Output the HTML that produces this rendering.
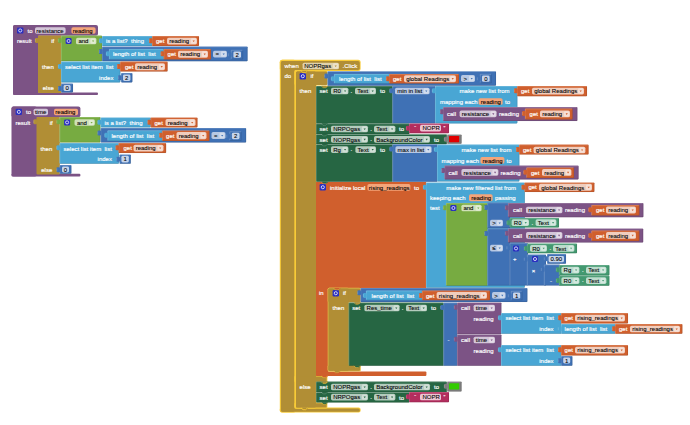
<!DOCTYPE html>
<html><head><meta charset="utf-8"><title>blocks</title>
<style>html,body{margin:0;padding:0;background:#fff;}svg{display:block}text{font-family:"Liberation Sans",sans-serif;white-space:pre}</style>
</head><body>
<svg width="690" height="425" viewBox="0 0 690 425" xml:space="preserve">
<rect width="690" height="425" fill="#fff"/>
<rect x="13.00" y="25.00" width="85.00" height="10.80" rx="2" fill="#7C5385" />
<rect x="13.00" y="25.00" width="25.50" height="70.00" rx="2" fill="#7C5385" />
<rect x="13.00" y="92.40" width="85.00" height="2.60" rx="1" fill="#7C5385" />
<rect x="17.00" y="27.40" width="6.40" height="6.20" rx="1.2" fill="#2a2fc0" />
<circle cx="20.20" cy="30.50" r="1.55" fill="none" stroke="#fff" stroke-width="0.75"/>
<text x="27.60" y="32.70" fill="#fff" stroke="#fff" stroke-width="0.16" text-anchor="start" font-size="6.0">to</text>
<rect x="35.00" y="27.25" width="30.60" height="6.50" rx="1.7" fill="#d3c6d8" />
<text x="36.30" y="32.70" fill="#000" stroke="#000" stroke-width="0.09" text-anchor="start" font-size="6.0">resistance</text>
<rect x="71.40" y="27.25" width="24.20" height="6.50" rx="1.7" fill="#f3a57a" />
<text x="72.70" y="32.70" fill="#000" stroke="#000" stroke-width="0.09" text-anchor="start" font-size="6.0">reading</text>
<text x="17.00" y="43.10" fill="#fff" stroke="#fff" stroke-width="0.16" text-anchor="start" font-size="6.0">result</text>
<rect x="38.00" y="35.60" width="23.40" height="57.40" rx="0.8" fill="#B18E35" />
<rect x="35.00" y="37.90" width="3.6" height="5" rx="1.2" fill="#B18E35"/>
<path d="M35.30 41.90 V38.90" fill="none" stroke="#fff" stroke-opacity="0.3" stroke-width="0.6"/>
<text x="54.20" y="43.10" fill="#fff" stroke="#fff" stroke-width="0.16" text-anchor="end" font-size="6.0">if</text>
<text x="53.80" y="69.10" fill="#fff" stroke="#fff" stroke-width="0.16" text-anchor="end" font-size="6.0">then</text>
<text x="53.80" y="90.10" fill="#fff" stroke="#fff" stroke-width="0.16" text-anchor="end" font-size="6.0">else</text>
<rect x="61.00" y="35.60" width="41.00" height="25.60" rx="0.8" fill="#77AB41" />
<path d="M61.30 60.60 V35.90 H101.40" fill="none" stroke="#fff" stroke-opacity="0.33" stroke-width="0.6"/>
<path d="M61.60 60.90 H101.70 V36.20" fill="none" stroke="#000" stroke-opacity="0.18" stroke-width="0.6"/>
<rect x="58.00" y="37.90" width="3.6" height="5" rx="1.2" fill="#77AB41"/>
<path d="M58.30 41.90 V38.90" fill="none" stroke="#fff" stroke-opacity="0.3" stroke-width="0.6"/>
<rect x="65.60" y="38.00" width="6.00" height="6.00" rx="1.2" fill="#2a2fc0" />
<circle cx="68.60" cy="41.00" r="1.55" fill="none" stroke="#fff" stroke-width="0.75"/>
<rect x="76.00" y="37.85" width="20.40" height="6.50" rx="1.7" fill="#cfe0b8" />
<text x="78.40" y="43.30" fill="#000" stroke="#000" stroke-width="0.09" text-anchor="start" font-size="6.0">and</text>
<rect x="90.40" y="38.55" width="5.2" height="5.10" rx="1.1" fill="#fff" fill-opacity="0.38"/>
<path d="M92.00 40.50 h2.2 l-1.1 1.6 z" fill="#77AB41"/>
<rect x="102.00" y="36.00" width="50.40" height="10.00" rx="0.8" fill="#49A6D4" />
<path d="M102.30 45.40 V36.30 H151.80" fill="none" stroke="#fff" stroke-opacity="0.33" stroke-width="0.6"/>
<path d="M102.60 45.70 H152.10 V36.60" fill="none" stroke="#000" stroke-opacity="0.18" stroke-width="0.6"/>
<rect x="99.00" y="38.30" width="3.6" height="5" rx="1.2" fill="#49A6D4"/>
<path d="M99.30 42.30 V39.30" fill="none" stroke="#fff" stroke-opacity="0.3" stroke-width="0.6"/>
<text x="106.00" y="43.10" fill="#fff" stroke="#fff" stroke-width="0.16" text-anchor="start" font-size="6.0">is a list?  thing</text>
<rect x="152.00" y="36.00" width="47.00" height="10.00" rx="0.8" fill="#D05F2D" />
<path d="M152.30 45.40 V36.30 H198.40" fill="none" stroke="#fff" stroke-opacity="0.33" stroke-width="0.6"/>
<path d="M152.60 45.70 H198.70 V36.60" fill="none" stroke="#000" stroke-opacity="0.18" stroke-width="0.6"/>
<rect x="149.00" y="38.30" width="3.6" height="5" rx="1.2" fill="#D05F2D"/>
<path d="M149.30 42.30 V39.30" fill="none" stroke="#fff" stroke-opacity="0.3" stroke-width="0.6"/>
<text x="156.00" y="43.10" fill="#fff" stroke="#fff" stroke-width="0.16" text-anchor="start" font-size="6.0">get</text>
<rect x="167.00" y="37.65" width="30.00" height="6.90" rx="1.7" fill="#f0cdbd" />
<text x="169.20" y="43.30" fill="#000" stroke="#000" stroke-width="0.09" text-anchor="start" font-size="6.0">reading</text>
<rect x="191.00" y="38.35" width="5.2" height="5.50" rx="1.1" fill="#fff" fill-opacity="0.38"/>
<path d="M192.60 40.50 h2.2 l-1.1 1.6 z" fill="#D05F2D"/>
<rect x="102.00" y="46.50" width="145.60" height="14.70" rx="0.8" fill="#3F71B5" />
<path d="M102.30 60.60 V46.80 H247.00" fill="none" stroke="#fff" stroke-opacity="0.33" stroke-width="0.6"/>
<path d="M102.60 60.90 H247.30 V47.10" fill="none" stroke="#000" stroke-opacity="0.18" stroke-width="0.6"/>
<rect x="99.00" y="49.10" width="3.6" height="5" rx="1.2" fill="#3F71B5"/>
<path d="M99.30 53.10 V50.10" fill="none" stroke="#fff" stroke-opacity="0.3" stroke-width="0.6"/>
<rect x="109.00" y="49.00" width="55.00" height="10.60" rx="0.8" fill="#49A6D4" />
<path d="M109.30 59.00 V49.30 H163.40" fill="none" stroke="#fff" stroke-opacity="0.33" stroke-width="0.6"/>
<path d="M109.60 59.30 H163.70 V49.60" fill="none" stroke="#000" stroke-opacity="0.18" stroke-width="0.6"/>
<rect x="106.00" y="51.30" width="3.6" height="5" rx="1.2" fill="#49A6D4"/>
<path d="M106.30 55.30 V52.30" fill="none" stroke="#fff" stroke-opacity="0.3" stroke-width="0.6"/>
<text x="113.00" y="56.40" fill="#fff" stroke="#fff" stroke-width="0.16" text-anchor="start" font-size="6.0">length of list  list</text>
<rect x="163.60" y="49.00" width="47.40" height="10.60" rx="0.8" fill="#D05F2D" />
<path d="M163.90 59.00 V49.30 H210.40" fill="none" stroke="#fff" stroke-opacity="0.33" stroke-width="0.6"/>
<path d="M164.20 59.30 H210.70 V49.60" fill="none" stroke="#000" stroke-opacity="0.18" stroke-width="0.6"/>
<rect x="160.60" y="51.30" width="3.6" height="5" rx="1.2" fill="#D05F2D"/>
<path d="M160.90 55.30 V52.30" fill="none" stroke="#fff" stroke-opacity="0.3" stroke-width="0.6"/>
<text x="167.60" y="56.40" fill="#fff" stroke="#fff" stroke-width="0.16" text-anchor="start" font-size="6.0">get</text>
<rect x="178.00" y="50.65" width="30.00" height="7.10" rx="1.7" fill="#f0cdbd" />
<text x="180.20" y="56.40" fill="#000" stroke="#000" stroke-width="0.09" text-anchor="start" font-size="6.0">reading</text>
<rect x="202.00" y="51.35" width="5.2" height="5.70" rx="1.1" fill="#fff" fill-opacity="0.38"/>
<path d="M203.60 53.60 h2.2 l-1.1 1.6 z" fill="#D05F2D"/>
<rect x="213.00" y="50.65" width="14.00" height="6.90" rx="1.7" fill="#b7c8e3" />
<text x="215.50" y="56.30" fill="#000" stroke="#000" stroke-width="0.09" text-anchor="start" font-size="6.0">=</text>
<rect x="221.00" y="51.35" width="5.2" height="5.50" rx="1.1" fill="#fff" fill-opacity="0.38"/>
<path d="M222.60 53.50 h2.2 l-1.1 1.6 z" fill="#3F71B5"/>
<rect x="231.00" y="50.00" width="12.00" height="9.40" rx="0.8" fill="#3F71B5" />
<path d="M231.30 58.80 V50.30 H242.40" fill="none" stroke="#fff" stroke-opacity="0.33" stroke-width="0.6"/>
<path d="M231.60 59.10 H242.70 V50.60" fill="none" stroke="#000" stroke-opacity="0.18" stroke-width="0.6"/>
<rect x="228.00" y="52.30" width="3.6" height="5" rx="1.2" fill="#3F71B5"/>
<path d="M228.30 56.30 V53.30" fill="none" stroke="#fff" stroke-opacity="0.3" stroke-width="0.6"/>
<rect x="233.40" y="51.40" width="7.60" height="6.40" rx="1.4" fill="#c6d4ea" />
<text x="237.20" y="56.70" fill="#000" stroke="#000" stroke-width="0.09" text-anchor="middle" font-size="6.0">2</text>
<rect x="61.00" y="61.60" width="59.40" height="20.80" rx="0.8" fill="#49A6D4" />
<path d="M61.30 81.80 V61.90 H119.80" fill="none" stroke="#fff" stroke-opacity="0.33" stroke-width="0.6"/>
<path d="M61.60 82.10 H120.10 V62.20" fill="none" stroke="#000" stroke-opacity="0.18" stroke-width="0.6"/>
<rect x="58.00" y="63.90" width="3.6" height="5" rx="1.2" fill="#49A6D4"/>
<path d="M58.30 67.90 V64.90" fill="none" stroke="#fff" stroke-opacity="0.3" stroke-width="0.6"/>
<text x="65.00" y="69.10" fill="#fff" stroke="#fff" stroke-width="0.16" text-anchor="start" font-size="6.0">select list item  list</text>
<text x="113.40" y="79.70" fill="#fff" stroke="#fff" stroke-width="0.16" text-anchor="end" font-size="6.0">index</text>
<rect x="120.00" y="61.60" width="47.60" height="10.00" rx="0.8" fill="#D05F2D" />
<path d="M120.30 71.00 V61.90 H167.00" fill="none" stroke="#fff" stroke-opacity="0.33" stroke-width="0.6"/>
<path d="M120.60 71.30 H167.30 V62.20" fill="none" stroke="#000" stroke-opacity="0.18" stroke-width="0.6"/>
<rect x="117.00" y="63.90" width="3.6" height="5" rx="1.2" fill="#D05F2D"/>
<path d="M117.30 67.90 V64.90" fill="none" stroke="#fff" stroke-opacity="0.3" stroke-width="0.6"/>
<text x="125.00" y="68.70" fill="#fff" stroke="#fff" stroke-width="0.16" text-anchor="start" font-size="6.0">get</text>
<rect x="135.00" y="63.25" width="30.00" height="6.90" rx="1.7" fill="#f0cdbd" />
<text x="137.20" y="68.90" fill="#000" stroke="#000" stroke-width="0.09" text-anchor="start" font-size="6.0">reading</text>
<rect x="159.00" y="63.95" width="5.2" height="5.50" rx="1.1" fill="#fff" fill-opacity="0.38"/>
<path d="M160.60 66.10 h2.2 l-1.1 1.6 z" fill="#D05F2D"/>
<rect x="121.00" y="73.00" width="11.40" height="9.40" rx="0.8" fill="#3F71B5" />
<path d="M121.30 81.80 V73.30 H131.80" fill="none" stroke="#fff" stroke-opacity="0.33" stroke-width="0.6"/>
<path d="M121.60 82.10 H132.10 V73.60" fill="none" stroke="#000" stroke-opacity="0.18" stroke-width="0.6"/>
<rect x="118.00" y="75.30" width="3.6" height="5" rx="1.2" fill="#3F71B5"/>
<path d="M118.30 79.30 V76.30" fill="none" stroke="#fff" stroke-opacity="0.3" stroke-width="0.6"/>
<rect x="123.00" y="74.40" width="7.40" height="6.60" rx="1.4" fill="#c6d4ea" />
<text x="126.70" y="79.80" fill="#000" stroke="#000" stroke-width="0.09" text-anchor="middle" font-size="6.0">2</text>
<rect x="61.00" y="83.60" width="12.00" height="8.80" rx="0.8" fill="#3F71B5" />
<path d="M61.30 91.80 V83.90 H72.40" fill="none" stroke="#fff" stroke-opacity="0.33" stroke-width="0.6"/>
<path d="M61.60 92.10 H72.70 V84.20" fill="none" stroke="#000" stroke-opacity="0.18" stroke-width="0.6"/>
<rect x="58.00" y="85.90" width="3.6" height="5" rx="1.2" fill="#3F71B5"/>
<path d="M58.30 89.90 V86.90" fill="none" stroke="#fff" stroke-opacity="0.3" stroke-width="0.6"/>
<rect x="63.60" y="85.00" width="7.00" height="6.00" rx="1.4" fill="#c6d4ea" />
<text x="67.10" y="90.10" fill="#000" stroke="#000" stroke-width="0.09" text-anchor="middle" font-size="6.0">0</text>
<rect x="11.50" y="106.40" width="68.90" height="10.80" rx="2" fill="#7C5385" />
<rect x="11.50" y="106.40" width="25.50" height="70.00" rx="2" fill="#7C5385" />
<rect x="11.50" y="173.80" width="68.90" height="2.60" rx="1" fill="#7C5385" />
<rect x="15.60" y="108.80" width="6.40" height="6.20" rx="1.2" fill="#2a2fc0" />
<circle cx="18.80" cy="111.90" r="1.55" fill="none" stroke="#fff" stroke-width="0.75"/>
<text x="26.00" y="114.10" fill="#fff" stroke="#fff" stroke-width="0.16" text-anchor="start" font-size="6.0">to</text>
<rect x="33.60" y="108.65" width="14.40" height="6.50" rx="1.7" fill="#d3c6d8" />
<text x="34.90" y="114.10" fill="#000" stroke="#000" stroke-width="0.09" text-anchor="start" font-size="6.0">time</text>
<rect x="54.00" y="108.65" width="24.00" height="6.50" rx="1.7" fill="#f3a57a" />
<text x="55.30" y="114.10" fill="#000" stroke="#000" stroke-width="0.09" text-anchor="start" font-size="6.0">reading</text>
<text x="15.50" y="124.50" fill="#fff" stroke="#fff" stroke-width="0.16" text-anchor="start" font-size="6.0">result</text>
<rect x="36.50" y="117.00" width="23.40" height="57.40" rx="0.8" fill="#B18E35" />
<rect x="33.50" y="119.30" width="3.6" height="5" rx="1.2" fill="#B18E35"/>
<path d="M33.80 123.30 V120.30" fill="none" stroke="#fff" stroke-opacity="0.3" stroke-width="0.6"/>
<text x="52.70" y="124.50" fill="#fff" stroke="#fff" stroke-width="0.16" text-anchor="end" font-size="6.0">if</text>
<text x="52.30" y="150.50" fill="#fff" stroke="#fff" stroke-width="0.16" text-anchor="end" font-size="6.0">then</text>
<text x="52.30" y="171.50" fill="#fff" stroke="#fff" stroke-width="0.16" text-anchor="end" font-size="6.0">else</text>
<rect x="59.50" y="117.00" width="41.00" height="25.60" rx="0.8" fill="#77AB41" />
<path d="M59.80 142.00 V117.30 H99.90" fill="none" stroke="#fff" stroke-opacity="0.33" stroke-width="0.6"/>
<path d="M60.10 142.30 H100.20 V117.60" fill="none" stroke="#000" stroke-opacity="0.18" stroke-width="0.6"/>
<rect x="56.50" y="119.30" width="3.6" height="5" rx="1.2" fill="#77AB41"/>
<path d="M56.80 123.30 V120.30" fill="none" stroke="#fff" stroke-opacity="0.3" stroke-width="0.6"/>
<rect x="64.10" y="119.40" width="6.00" height="6.00" rx="1.2" fill="#2a2fc0" />
<circle cx="67.10" cy="122.40" r="1.55" fill="none" stroke="#fff" stroke-width="0.75"/>
<rect x="74.50" y="119.25" width="20.40" height="6.50" rx="1.7" fill="#cfe0b8" />
<text x="76.90" y="124.70" fill="#000" stroke="#000" stroke-width="0.09" text-anchor="start" font-size="6.0">and</text>
<rect x="88.90" y="119.95" width="5.2" height="5.10" rx="1.1" fill="#fff" fill-opacity="0.38"/>
<path d="M90.50 121.90 h2.2 l-1.1 1.6 z" fill="#77AB41"/>
<rect x="100.50" y="117.40" width="50.40" height="10.00" rx="0.8" fill="#49A6D4" />
<path d="M100.80 126.80 V117.70 H150.30" fill="none" stroke="#fff" stroke-opacity="0.33" stroke-width="0.6"/>
<path d="M101.10 127.10 H150.60 V118.00" fill="none" stroke="#000" stroke-opacity="0.18" stroke-width="0.6"/>
<rect x="97.50" y="119.70" width="3.6" height="5" rx="1.2" fill="#49A6D4"/>
<path d="M97.80 123.70 V120.70" fill="none" stroke="#fff" stroke-opacity="0.3" stroke-width="0.6"/>
<text x="104.50" y="124.50" fill="#fff" stroke="#fff" stroke-width="0.16" text-anchor="start" font-size="6.0">is a list?  thing</text>
<rect x="150.50" y="117.40" width="47.00" height="10.00" rx="0.8" fill="#D05F2D" />
<path d="M150.80 126.80 V117.70 H196.90" fill="none" stroke="#fff" stroke-opacity="0.33" stroke-width="0.6"/>
<path d="M151.10 127.10 H197.20 V118.00" fill="none" stroke="#000" stroke-opacity="0.18" stroke-width="0.6"/>
<rect x="147.50" y="119.70" width="3.6" height="5" rx="1.2" fill="#D05F2D"/>
<path d="M147.80 123.70 V120.70" fill="none" stroke="#fff" stroke-opacity="0.3" stroke-width="0.6"/>
<text x="154.50" y="124.50" fill="#fff" stroke="#fff" stroke-width="0.16" text-anchor="start" font-size="6.0">get</text>
<rect x="165.50" y="119.05" width="30.00" height="6.90" rx="1.7" fill="#f0cdbd" />
<text x="167.70" y="124.70" fill="#000" stroke="#000" stroke-width="0.09" text-anchor="start" font-size="6.0">reading</text>
<rect x="189.50" y="119.75" width="5.2" height="5.50" rx="1.1" fill="#fff" fill-opacity="0.38"/>
<path d="M191.10 121.90 h2.2 l-1.1 1.6 z" fill="#D05F2D"/>
<rect x="100.50" y="127.90" width="145.60" height="14.70" rx="0.8" fill="#3F71B5" />
<path d="M100.80 142.00 V128.20 H245.50" fill="none" stroke="#fff" stroke-opacity="0.33" stroke-width="0.6"/>
<path d="M101.10 142.30 H245.80 V128.50" fill="none" stroke="#000" stroke-opacity="0.18" stroke-width="0.6"/>
<rect x="97.50" y="130.50" width="3.6" height="5" rx="1.2" fill="#3F71B5"/>
<path d="M97.80 134.50 V131.50" fill="none" stroke="#fff" stroke-opacity="0.3" stroke-width="0.6"/>
<rect x="107.50" y="130.40" width="55.00" height="10.60" rx="0.8" fill="#49A6D4" />
<path d="M107.80 140.40 V130.70 H161.90" fill="none" stroke="#fff" stroke-opacity="0.33" stroke-width="0.6"/>
<path d="M108.10 140.70 H162.20 V131.00" fill="none" stroke="#000" stroke-opacity="0.18" stroke-width="0.6"/>
<rect x="104.50" y="132.70" width="3.6" height="5" rx="1.2" fill="#49A6D4"/>
<path d="M104.80 136.70 V133.70" fill="none" stroke="#fff" stroke-opacity="0.3" stroke-width="0.6"/>
<text x="111.50" y="137.80" fill="#fff" stroke="#fff" stroke-width="0.16" text-anchor="start" font-size="6.0">length of list  list</text>
<rect x="162.10" y="130.40" width="47.40" height="10.60" rx="0.8" fill="#D05F2D" />
<path d="M162.40 140.40 V130.70 H208.90" fill="none" stroke="#fff" stroke-opacity="0.33" stroke-width="0.6"/>
<path d="M162.70 140.70 H209.20 V131.00" fill="none" stroke="#000" stroke-opacity="0.18" stroke-width="0.6"/>
<rect x="159.10" y="132.70" width="3.6" height="5" rx="1.2" fill="#D05F2D"/>
<path d="M159.40 136.70 V133.70" fill="none" stroke="#fff" stroke-opacity="0.3" stroke-width="0.6"/>
<text x="166.10" y="137.80" fill="#fff" stroke="#fff" stroke-width="0.16" text-anchor="start" font-size="6.0">get</text>
<rect x="176.50" y="132.05" width="30.00" height="7.10" rx="1.7" fill="#f0cdbd" />
<text x="178.70" y="137.80" fill="#000" stroke="#000" stroke-width="0.09" text-anchor="start" font-size="6.0">reading</text>
<rect x="200.50" y="132.75" width="5.2" height="5.70" rx="1.1" fill="#fff" fill-opacity="0.38"/>
<path d="M202.10 135.00 h2.2 l-1.1 1.6 z" fill="#D05F2D"/>
<rect x="211.50" y="132.05" width="14.00" height="6.90" rx="1.7" fill="#b7c8e3" />
<text x="214.00" y="137.70" fill="#000" stroke="#000" stroke-width="0.09" text-anchor="start" font-size="6.0">=</text>
<rect x="219.50" y="132.75" width="5.2" height="5.50" rx="1.1" fill="#fff" fill-opacity="0.38"/>
<path d="M221.10 134.90 h2.2 l-1.1 1.6 z" fill="#3F71B5"/>
<rect x="229.50" y="131.40" width="12.00" height="9.40" rx="0.8" fill="#3F71B5" />
<path d="M229.80 140.20 V131.70 H240.90" fill="none" stroke="#fff" stroke-opacity="0.33" stroke-width="0.6"/>
<path d="M230.10 140.50 H241.20 V132.00" fill="none" stroke="#000" stroke-opacity="0.18" stroke-width="0.6"/>
<rect x="226.50" y="133.70" width="3.6" height="5" rx="1.2" fill="#3F71B5"/>
<path d="M226.80 137.70 V134.70" fill="none" stroke="#fff" stroke-opacity="0.3" stroke-width="0.6"/>
<rect x="231.90" y="132.80" width="7.60" height="6.40" rx="1.4" fill="#c6d4ea" />
<text x="235.70" y="138.10" fill="#000" stroke="#000" stroke-width="0.09" text-anchor="middle" font-size="6.0">2</text>
<rect x="59.50" y="143.00" width="59.40" height="20.80" rx="0.8" fill="#49A6D4" />
<path d="M59.80 163.20 V143.30 H118.30" fill="none" stroke="#fff" stroke-opacity="0.33" stroke-width="0.6"/>
<path d="M60.10 163.50 H118.60 V143.60" fill="none" stroke="#000" stroke-opacity="0.18" stroke-width="0.6"/>
<rect x="56.50" y="145.30" width="3.6" height="5" rx="1.2" fill="#49A6D4"/>
<path d="M56.80 149.30 V146.30" fill="none" stroke="#fff" stroke-opacity="0.3" stroke-width="0.6"/>
<text x="63.50" y="150.50" fill="#fff" stroke="#fff" stroke-width="0.16" text-anchor="start" font-size="6.0">select list item  list</text>
<text x="111.90" y="161.10" fill="#fff" stroke="#fff" stroke-width="0.16" text-anchor="end" font-size="6.0">index</text>
<rect x="118.50" y="143.00" width="47.60" height="10.00" rx="0.8" fill="#D05F2D" />
<path d="M118.80 152.40 V143.30 H165.50" fill="none" stroke="#fff" stroke-opacity="0.33" stroke-width="0.6"/>
<path d="M119.10 152.70 H165.80 V143.60" fill="none" stroke="#000" stroke-opacity="0.18" stroke-width="0.6"/>
<rect x="115.50" y="145.30" width="3.6" height="5" rx="1.2" fill="#D05F2D"/>
<path d="M115.80 149.30 V146.30" fill="none" stroke="#fff" stroke-opacity="0.3" stroke-width="0.6"/>
<text x="123.50" y="150.10" fill="#fff" stroke="#fff" stroke-width="0.16" text-anchor="start" font-size="6.0">get</text>
<rect x="133.50" y="144.65" width="30.00" height="6.90" rx="1.7" fill="#f0cdbd" />
<text x="135.70" y="150.30" fill="#000" stroke="#000" stroke-width="0.09" text-anchor="start" font-size="6.0">reading</text>
<rect x="157.50" y="145.35" width="5.2" height="5.50" rx="1.1" fill="#fff" fill-opacity="0.38"/>
<path d="M159.10 147.50 h2.2 l-1.1 1.6 z" fill="#D05F2D"/>
<rect x="119.40" y="154.40" width="11.40" height="9.40" rx="0.8" fill="#3F71B5" />
<path d="M119.70 163.20 V154.70 H130.20" fill="none" stroke="#fff" stroke-opacity="0.33" stroke-width="0.6"/>
<path d="M120.00 163.50 H130.50 V155.00" fill="none" stroke="#000" stroke-opacity="0.18" stroke-width="0.6"/>
<rect x="116.40" y="156.70" width="3.6" height="5" rx="1.2" fill="#3F71B5"/>
<path d="M116.70 160.70 V157.70" fill="none" stroke="#fff" stroke-opacity="0.3" stroke-width="0.6"/>
<rect x="121.40" y="155.80" width="7.40" height="6.60" rx="1.4" fill="#c6d4ea" />
<text x="125.10" y="161.20" fill="#000" stroke="#000" stroke-width="0.09" text-anchor="middle" font-size="6.0">1</text>
<rect x="59.50" y="165.00" width="11.90" height="8.80" rx="0.8" fill="#3F71B5" />
<path d="M59.80 173.20 V165.30 H70.80" fill="none" stroke="#fff" stroke-opacity="0.33" stroke-width="0.6"/>
<path d="M60.10 173.50 H71.10 V165.60" fill="none" stroke="#000" stroke-opacity="0.18" stroke-width="0.6"/>
<rect x="56.50" y="167.30" width="3.6" height="5" rx="1.2" fill="#3F71B5"/>
<path d="M56.80 171.30 V168.30" fill="none" stroke="#fff" stroke-opacity="0.3" stroke-width="0.6"/>
<rect x="62.00" y="166.40" width="7.00" height="6.00" rx="1.4" fill="#c6d4ea" />
<text x="65.50" y="171.50" fill="#000" stroke="#000" stroke-width="0.09" text-anchor="middle" font-size="6.0">0</text>
<rect x="279.80" y="59.80" width="80.80" height="11.20" rx="2.5" fill="#F8CB38" />
<rect x="279.80" y="59.80" width="16.20" height="352.80" rx="2.5" fill="#F8CB38" />
<rect x="279.80" y="407.60" width="80.80" height="5.00" rx="2" fill="#F8CB38" />
<rect x="280.90" y="60.90" width="78.90" height="9.20" rx="1.8" fill="#B18E35" />
<rect x="280.90" y="60.90" width="13.90" height="350.90" rx="1.8" fill="#B18E35" />
<rect x="280.90" y="408.40" width="78.90" height="3.40" rx="1.5" fill="#B18E35" />
<text x="284.40" y="68.10" fill="#fff" stroke="#fff" stroke-width="0.16" text-anchor="start" font-size="6.0">when</text>
<rect x="302.60" y="62.65" width="36.40" height="6.70" rx="1.7" fill="#e0d2ac" />
<text x="304.20" y="68.20" fill="#000" stroke="#000" stroke-width="0.09" text-anchor="start" font-size="6.0">NOPRgas</text>
<rect x="333.00" y="63.35" width="5.2" height="5.30" rx="1.1" fill="#fff" fill-opacity="0.38"/>
<path d="M334.60 65.40 h2.2 l-1.1 1.6 z" fill="#B18E35"/>
<text x="342.60" y="68.10" fill="#fff" stroke="#fff" stroke-width="0.16" text-anchor="start" font-size="6.0">.Click</text>
<text x="284.40" y="78.10" fill="#fff" stroke="#fff" stroke-width="0.16" text-anchor="start" font-size="6.0">do</text>
<rect x="294.40" y="70.00" width="33.20" height="15.40" rx="2" fill="#F8CB38" />
<rect x="294.40" y="70.00" width="22.20" height="338.40" rx="2" fill="#F8CB38" />
<rect x="294.40" y="375.60" width="33.00" height="6.80" rx="1.5" fill="#F8CB38" />
<rect x="294.40" y="402.60" width="33.00" height="5.80" rx="1.5" fill="#F8CB38" />
<rect x="296.00" y="71.40" width="31.40" height="13.60" rx="1.5" fill="#B18E35" />
<rect x="296.00" y="71.40" width="20.00" height="336.20" rx="1.5" fill="#B18E35" />
<rect x="296.00" y="376.40" width="30.60" height="5.40" rx="1.2" fill="#B18E35" />
<rect x="296.00" y="403.20" width="30.60" height="4.40" rx="1.2" fill="#B18E35" />
<rect x="299.60" y="73.00" width="6.40" height="6.40" rx="1.2" fill="#2a2fc0" />
<circle cx="302.80" cy="76.20" r="1.55" fill="none" stroke="#fff" stroke-width="0.75"/>
<text x="310.40" y="78.10" fill="#fff" stroke="#fff" stroke-width="0.16" text-anchor="start" font-size="6.0">if</text>
<text x="299.60" y="93.10" fill="#fff" stroke="#fff" stroke-width="0.16" text-anchor="start" font-size="6.0">then</text>
<text x="299.60" y="388.70" fill="#fff" stroke="#fff" stroke-width="0.16" text-anchor="start" font-size="6.0">else</text>
<rect x="327.40" y="71.20" width="168.60" height="14.50" rx="0.8" fill="#3F71B5" />
<path d="M327.70 85.10 V71.50 H495.40" fill="none" stroke="#fff" stroke-opacity="0.33" stroke-width="0.6"/>
<path d="M328.00 85.40 H495.70 V71.80" fill="none" stroke="#000" stroke-opacity="0.18" stroke-width="0.6"/>
<rect x="324.40" y="73.50" width="3.6" height="5" rx="1.2" fill="#3F71B5"/>
<path d="M324.70 77.50 V74.50" fill="none" stroke="#fff" stroke-opacity="0.3" stroke-width="0.6"/>
<rect x="334.00" y="74.00" width="55.40" height="9.60" rx="0.8" fill="#49A6D4" />
<path d="M334.30 83.00 V74.30 H388.80" fill="none" stroke="#fff" stroke-opacity="0.33" stroke-width="0.6"/>
<path d="M334.60 83.30 H389.10 V74.60" fill="none" stroke="#000" stroke-opacity="0.18" stroke-width="0.6"/>
<rect x="331.00" y="76.30" width="3.6" height="5" rx="1.2" fill="#49A6D4"/>
<path d="M331.30 80.30 V77.30" fill="none" stroke="#fff" stroke-opacity="0.3" stroke-width="0.6"/>
<text x="339.00" y="81.00" fill="#fff" stroke="#fff" stroke-width="0.16" text-anchor="start" font-size="6.0">length of list  list</text>
<rect x="389.00" y="74.00" width="70.00" height="9.60" rx="0.8" fill="#D05F2D" />
<path d="M389.30 83.00 V74.30 H458.40" fill="none" stroke="#fff" stroke-opacity="0.33" stroke-width="0.6"/>
<path d="M389.60 83.30 H458.70 V74.60" fill="none" stroke="#000" stroke-opacity="0.18" stroke-width="0.6"/>
<rect x="386.00" y="76.30" width="3.6" height="5" rx="1.2" fill="#D05F2D"/>
<path d="M386.30 80.30 V77.30" fill="none" stroke="#fff" stroke-opacity="0.3" stroke-width="0.6"/>
<text x="393.00" y="80.90" fill="#fff" stroke="#fff" stroke-width="0.16" text-anchor="start" font-size="6.0">get</text>
<rect x="404.00" y="75.25" width="52.00" height="6.90" rx="1.7" fill="#f0cdbd" />
<text x="406.20" y="80.90" fill="#000" stroke="#000" stroke-width="0.09" text-anchor="start" font-size="6.0">global Readings</text>
<rect x="450.00" y="75.95" width="5.2" height="5.50" rx="1.1" fill="#fff" fill-opacity="0.38"/>
<path d="M451.60 78.10 h2.2 l-1.1 1.6 z" fill="#D05F2D"/>
<rect x="461.00" y="75.05" width="14.00" height="6.90" rx="1.7" fill="#b7c8e3" />
<text x="463.50" y="80.70" fill="#000" stroke="#000" stroke-width="0.09" text-anchor="start" font-size="6.0">&gt;</text>
<rect x="469.00" y="75.75" width="5.2" height="5.50" rx="1.1" fill="#fff" fill-opacity="0.38"/>
<path d="M470.60 77.90 h2.2 l-1.1 1.6 z" fill="#3F71B5"/>
<rect x="480.00" y="74.00" width="11.60" height="9.20" rx="0.8" fill="#3F71B5" />
<path d="M480.30 82.60 V74.30 H491.00" fill="none" stroke="#fff" stroke-opacity="0.33" stroke-width="0.6"/>
<path d="M480.60 82.90 H491.30 V74.60" fill="none" stroke="#000" stroke-opacity="0.18" stroke-width="0.6"/>
<rect x="477.00" y="76.30" width="3.6" height="5" rx="1.2" fill="#3F71B5"/>
<path d="M477.30 80.30 V77.30" fill="none" stroke="#fff" stroke-opacity="0.3" stroke-width="0.6"/>
<rect x="482.00" y="75.60" width="7.60" height="6.20" rx="1.4" fill="#c6d4ea" />
<text x="485.80" y="80.80" fill="#000" stroke="#000" stroke-width="0.09" text-anchor="middle" font-size="6.0">0</text>
<rect x="316.00" y="86.00" width="76.80" height="37.60" rx="0.8" fill="#266643" />
<path d="M316.30 123.00 V86.30 H392.20" fill="none" stroke="#fff" stroke-opacity="0.33" stroke-width="0.6"/>
<path d="M316.60 123.30 H392.50 V86.60" fill="none" stroke="#000" stroke-opacity="0.18" stroke-width="0.6"/>
<text x="319.60" y="93.10" fill="#fff" stroke="#fff" stroke-width="0.16" text-anchor="start" font-size="6.0">set</text>
<rect x="331.00" y="87.65" width="17.40" height="6.70" rx="1.7" fill="#b4cbbd" />
<text x="333.20" y="93.20" fill="#000" stroke="#000" stroke-width="0.09" text-anchor="start" font-size="6.0">R0</text>
<rect x="342.40" y="88.35" width="5.2" height="5.30" rx="1.1" fill="#fff" fill-opacity="0.38"/>
<path d="M344.00 90.40 h2.2 l-1.1 1.6 z" fill="#266643"/>
<text x="350.60" y="92.70" fill="#fff" stroke="#fff" stroke-width="0.16" text-anchor="start" font-size="6.0">.</text>
<rect x="355.00" y="87.65" width="21.00" height="6.70" rx="1.7" fill="#b4cbbd" />
<text x="357.20" y="93.20" fill="#000" stroke="#000" stroke-width="0.09" text-anchor="start" font-size="6.0">Text</text>
<rect x="370.00" y="88.35" width="5.2" height="5.30" rx="1.1" fill="#fff" fill-opacity="0.38"/>
<path d="M371.60 90.40 h2.2 l-1.1 1.6 z" fill="#266643"/>
<text x="380.00" y="93.10" fill="#fff" stroke="#fff" stroke-width="0.16" text-anchor="start" font-size="6.0">to</text>
<rect x="392.40" y="86.00" width="43.00" height="37.60" rx="0.8" fill="#3F71B5" />
<path d="M392.70 123.00 V86.30 H434.80" fill="none" stroke="#fff" stroke-opacity="0.33" stroke-width="0.6"/>
<path d="M393.00 123.30 H435.10 V86.60" fill="none" stroke="#000" stroke-opacity="0.18" stroke-width="0.6"/>
<rect x="389.40" y="88.30" width="3.6" height="5" rx="1.2" fill="#3F71B5"/>
<path d="M389.70 92.30 V89.30" fill="none" stroke="#fff" stroke-opacity="0.3" stroke-width="0.6"/>
<rect x="395.00" y="87.65" width="34.60" height="6.70" rx="1.7" fill="#b7c8e3" />
<text x="397.20" y="93.20" fill="#000" stroke="#000" stroke-width="0.09" text-anchor="start" font-size="6.0">min in list</text>
<rect x="423.60" y="88.35" width="5.2" height="5.30" rx="1.1" fill="#fff" fill-opacity="0.38"/>
<path d="M425.20 90.40 h2.2 l-1.1 1.6 z" fill="#3F71B5"/>
<rect x="435.00" y="86.00" width="82.40" height="37.40" rx="0.8" fill="#49A6D4" />
<path d="M435.30 122.80 V86.30 H516.80" fill="none" stroke="#fff" stroke-opacity="0.33" stroke-width="0.6"/>
<path d="M435.60 123.10 H517.10 V86.60" fill="none" stroke="#000" stroke-opacity="0.18" stroke-width="0.6"/>
<rect x="432.00" y="88.30" width="3.6" height="5" rx="1.2" fill="#49A6D4"/>
<path d="M432.30 92.30 V89.30" fill="none" stroke="#fff" stroke-opacity="0.3" stroke-width="0.6"/>
<text x="509.60" y="93.10" fill="#fff" stroke="#fff" stroke-width="0.16" text-anchor="end" font-size="6.0">make new list from</text>
<text x="440.00" y="103.70" fill="#fff" stroke="#fff" stroke-width="0.16" text-anchor="start" font-size="6.0">mapping each</text>
<rect x="478.60" y="98.15" width="24.00" height="6.70" rx="1.7" fill="#f3a57a" />
<text x="480.80" y="103.70" fill="#000" stroke="#000" stroke-width="0.09" text-anchor="start" font-size="6.0">reading</text>
<text x="505.00" y="103.70" fill="#fff" stroke="#fff" stroke-width="0.16" text-anchor="start" font-size="6.0">to</text>
<rect x="517.00" y="86.00" width="70.00" height="10.20" rx="0.8" fill="#D05F2D" />
<path d="M517.30 95.60 V86.30 H586.40" fill="none" stroke="#fff" stroke-opacity="0.33" stroke-width="0.6"/>
<path d="M517.60 95.90 H586.70 V86.60" fill="none" stroke="#000" stroke-opacity="0.18" stroke-width="0.6"/>
<rect x="514.00" y="88.30" width="3.6" height="5" rx="1.2" fill="#D05F2D"/>
<path d="M514.30 92.30 V89.30" fill="none" stroke="#fff" stroke-opacity="0.3" stroke-width="0.6"/>
<text x="521.00" y="93.20" fill="#fff" stroke="#fff" stroke-width="0.16" text-anchor="start" font-size="6.0">get</text>
<rect x="532.00" y="87.65" width="52.00" height="6.90" rx="1.7" fill="#f0cdbd" />
<text x="534.20" y="93.30" fill="#000" stroke="#000" stroke-width="0.09" text-anchor="start" font-size="6.0">global Readings</text>
<rect x="578.00" y="88.35" width="5.2" height="5.50" rx="1.1" fill="#fff" fill-opacity="0.38"/>
<path d="M579.60 90.50 h2.2 l-1.1 1.6 z" fill="#D05F2D"/>
<rect x="443.00" y="107.00" width="134.40" height="14.00" rx="0.8" fill="#7C5385" />
<path d="M443.30 120.40 V107.30 H576.80" fill="none" stroke="#fff" stroke-opacity="0.33" stroke-width="0.6"/>
<path d="M443.60 120.70 H577.10 V107.60" fill="none" stroke="#000" stroke-opacity="0.18" stroke-width="0.6"/>
<rect x="440.00" y="109.30" width="3.6" height="5" rx="1.2" fill="#7C5385"/>
<path d="M440.30 113.30 V110.30" fill="none" stroke="#fff" stroke-opacity="0.3" stroke-width="0.6"/>
<text x="447.00" y="116.10" fill="#fff" stroke="#fff" stroke-width="0.16" text-anchor="start" font-size="6.0">call</text>
<rect x="459.60" y="110.55" width="37.00" height="6.70" rx="1.7" fill="#d3c6d8" />
<text x="461.80" y="116.10" fill="#000" stroke="#000" stroke-width="0.09" text-anchor="start" font-size="6.0">resistance</text>
<rect x="490.60" y="111.25" width="5.2" height="5.30" rx="1.1" fill="#fff" fill-opacity="0.38"/>
<path d="M492.20 113.30 h2.2 l-1.1 1.6 z" fill="#7C5385"/>
<text x="499.00" y="116.10" fill="#fff" stroke="#fff" stroke-width="0.16" text-anchor="start" font-size="6.0">reading</text>
<rect x="525.00" y="108.60" width="47.60" height="10.80" rx="0.8" fill="#D05F2D" />
<path d="M525.30 118.80 V108.90 H572.00" fill="none" stroke="#fff" stroke-opacity="0.33" stroke-width="0.6"/>
<path d="M525.60 119.10 H572.30 V109.20" fill="none" stroke="#000" stroke-opacity="0.18" stroke-width="0.6"/>
<rect x="522.00" y="110.90" width="3.6" height="5" rx="1.2" fill="#D05F2D"/>
<path d="M522.30 114.90 V111.90" fill="none" stroke="#fff" stroke-opacity="0.3" stroke-width="0.6"/>
<text x="529.60" y="116.10" fill="#fff" stroke="#fff" stroke-width="0.16" text-anchor="start" font-size="6.0">get</text>
<rect x="540.00" y="110.45" width="30.00" height="6.90" rx="1.7" fill="#f0cdbd" />
<text x="542.20" y="116.10" fill="#000" stroke="#000" stroke-width="0.09" text-anchor="start" font-size="6.0">reading</text>
<rect x="564.00" y="111.15" width="5.2" height="5.50" rx="1.1" fill="#fff" fill-opacity="0.38"/>
<path d="M565.60 113.30 h2.2 l-1.1 1.6 z" fill="#D05F2D"/>
<rect x="316.00" y="123.60" width="93.40" height="10.60" rx="0.8" fill="#266643" />
<path d="M316.30 133.60 V123.90 H408.80" fill="none" stroke="#fff" stroke-opacity="0.33" stroke-width="0.6"/>
<path d="M316.60 133.90 H409.10 V124.20" fill="none" stroke="#000" stroke-opacity="0.18" stroke-width="0.6"/>
<text x="319.60" y="131.10" fill="#fff" stroke="#fff" stroke-width="0.16" text-anchor="start" font-size="6.0">set</text>
<rect x="331.00" y="125.65" width="37.00" height="6.70" rx="1.7" fill="#b4cbbd" />
<text x="333.20" y="131.20" fill="#000" stroke="#000" stroke-width="0.09" text-anchor="start" font-size="6.0">NRPOgas</text>
<rect x="362.00" y="126.35" width="5.2" height="5.30" rx="1.1" fill="#fff" fill-opacity="0.38"/>
<path d="M363.60 128.40 h2.2 l-1.1 1.6 z" fill="#266643"/>
<text x="370.20" y="130.70" fill="#fff" stroke="#fff" stroke-width="0.16" text-anchor="start" font-size="6.0">.</text>
<rect x="374.00" y="125.65" width="21.40" height="6.70" rx="1.7" fill="#b4cbbd" />
<text x="376.20" y="131.20" fill="#000" stroke="#000" stroke-width="0.09" text-anchor="start" font-size="6.0">Text</text>
<rect x="389.40" y="126.35" width="5.2" height="5.30" rx="1.1" fill="#fff" fill-opacity="0.38"/>
<path d="M391.00 128.40 h2.2 l-1.1 1.6 z" fill="#266643"/>
<text x="399.00" y="131.10" fill="#fff" stroke="#fff" stroke-width="0.16" text-anchor="start" font-size="6.0">to</text>
<rect x="409.00" y="123.40" width="40.00" height="9.80" rx="0.8" fill="#B32D5E" />
<path d="M409.30 132.60 V123.70 H448.40" fill="none" stroke="#fff" stroke-opacity="0.33" stroke-width="0.6"/>
<path d="M409.60 132.90 H448.70 V124.00" fill="none" stroke="#000" stroke-opacity="0.18" stroke-width="0.6"/>
<rect x="406.00" y="125.70" width="3.6" height="5" rx="1.2" fill="#B32D5E"/>
<path d="M406.30 129.70 V126.70" fill="none" stroke="#fff" stroke-opacity="0.3" stroke-width="0.6"/>
<text x="416.20" y="130.03" fill="#fff" stroke="#fff" stroke-width="0.16" text-anchor="end" font-size="5.5">“</text>
<rect x="420.00" y="124.85" width="21.00" height="6.70" rx="1.7" fill="#ecc5d3" />
<text x="422.40" y="130.40" fill="#000" stroke="#000" stroke-width="0.09" text-anchor="start" font-size="6.0">NOPR</text>
<text x="443.40" y="130.03" fill="#fff" stroke="#fff" stroke-width="0.16" text-anchor="start" font-size="5.5">”</text>
<rect x="316.00" y="134.20" width="130.80" height="10.00" rx="0.8" fill="#266643" />
<path d="M316.30 143.60 V134.50 H446.20" fill="none" stroke="#fff" stroke-opacity="0.33" stroke-width="0.6"/>
<path d="M316.60 143.90 H446.50 V134.80" fill="none" stroke="#000" stroke-opacity="0.18" stroke-width="0.6"/>
<text x="319.60" y="141.50" fill="#fff" stroke="#fff" stroke-width="0.16" text-anchor="start" font-size="6.0">set</text>
<rect x="331.00" y="136.05" width="37.00" height="6.70" rx="1.7" fill="#b4cbbd" />
<text x="333.20" y="141.60" fill="#000" stroke="#000" stroke-width="0.09" text-anchor="start" font-size="6.0">NOPRgas</text>
<rect x="362.00" y="136.75" width="5.2" height="5.30" rx="1.1" fill="#fff" fill-opacity="0.38"/>
<path d="M363.60 138.80 h2.2 l-1.1 1.6 z" fill="#266643"/>
<text x="370.20" y="141.10" fill="#fff" stroke="#fff" stroke-width="0.16" text-anchor="start" font-size="6.0">.</text>
<rect x="374.00" y="136.05" width="56.00" height="6.70" rx="1.7" fill="#b4cbbd" />
<text x="376.20" y="141.60" fill="#000" stroke="#000" stroke-width="0.09" text-anchor="start" font-size="6.0">BackgroundColor</text>
<rect x="424.00" y="136.75" width="5.2" height="5.30" rx="1.1" fill="#fff" fill-opacity="0.38"/>
<path d="M425.60 138.80 h2.2 l-1.1 1.6 z" fill="#266643"/>
<text x="434.00" y="141.50" fill="#fff" stroke="#fff" stroke-width="0.16" text-anchor="start" font-size="6.0">to</text>
<rect x="447.00" y="134.40" width="14.60" height="9.40" rx="0.8" fill="#7D7D7D" />
<path d="M447.30 143.20 V134.70 H461.00" fill="none" stroke="#fff" stroke-opacity="0.33" stroke-width="0.6"/>
<path d="M447.60 143.50 H461.30 V135.00" fill="none" stroke="#000" stroke-opacity="0.18" stroke-width="0.6"/>
<rect x="444.00" y="136.70" width="3.6" height="5" rx="1.2" fill="#7D7D7D"/>
<path d="M444.30 140.70 V137.70" fill="none" stroke="#fff" stroke-opacity="0.3" stroke-width="0.6"/>
<rect x="449.00" y="136.00" width="10.20" height="6.20" rx="0.6" fill="#e00000" />
<rect x="316.00" y="144.20" width="76.80" height="37.60" rx="0.8" fill="#266643" />
<path d="M316.30 181.20 V144.50 H392.20" fill="none" stroke="#fff" stroke-opacity="0.33" stroke-width="0.6"/>
<path d="M316.60 181.50 H392.50 V144.80" fill="none" stroke="#000" stroke-opacity="0.18" stroke-width="0.6"/>
<text x="319.60" y="151.70" fill="#fff" stroke="#fff" stroke-width="0.16" text-anchor="start" font-size="6.0">set</text>
<rect x="331.00" y="146.25" width="17.40" height="6.70" rx="1.7" fill="#b4cbbd" />
<text x="333.20" y="151.80" fill="#000" stroke="#000" stroke-width="0.09" text-anchor="start" font-size="6.0">Rg</text>
<rect x="342.40" y="146.95" width="5.2" height="5.30" rx="1.1" fill="#fff" fill-opacity="0.38"/>
<path d="M344.00 149.00 h2.2 l-1.1 1.6 z" fill="#266643"/>
<text x="350.60" y="151.30" fill="#fff" stroke="#fff" stroke-width="0.16" text-anchor="start" font-size="6.0">.</text>
<rect x="355.40" y="146.25" width="20.60" height="6.70" rx="1.7" fill="#b4cbbd" />
<text x="357.60" y="151.80" fill="#000" stroke="#000" stroke-width="0.09" text-anchor="start" font-size="6.0">Text</text>
<rect x="370.00" y="146.95" width="5.2" height="5.30" rx="1.1" fill="#fff" fill-opacity="0.38"/>
<path d="M371.60 149.00 h2.2 l-1.1 1.6 z" fill="#266643"/>
<text x="380.00" y="151.70" fill="#fff" stroke="#fff" stroke-width="0.16" text-anchor="start" font-size="6.0">to</text>
<rect x="392.40" y="144.20" width="45.00" height="37.60" rx="0.8" fill="#3F71B5" />
<path d="M392.70 181.20 V144.50 H436.80" fill="none" stroke="#fff" stroke-opacity="0.33" stroke-width="0.6"/>
<path d="M393.00 181.50 H437.10 V144.80" fill="none" stroke="#000" stroke-opacity="0.18" stroke-width="0.6"/>
<rect x="389.40" y="146.50" width="3.6" height="5" rx="1.2" fill="#3F71B5"/>
<path d="M389.70 150.50 V147.50" fill="none" stroke="#fff" stroke-opacity="0.3" stroke-width="0.6"/>
<rect x="395.40" y="146.25" width="36.20" height="6.70" rx="1.7" fill="#b7c8e3" />
<text x="397.60" y="151.80" fill="#000" stroke="#000" stroke-width="0.09" text-anchor="start" font-size="6.0">max in list</text>
<rect x="425.60" y="146.95" width="5.2" height="5.30" rx="1.1" fill="#fff" fill-opacity="0.38"/>
<path d="M427.20 149.00 h2.2 l-1.1 1.6 z" fill="#3F71B5"/>
<rect x="437.00" y="144.60" width="82.40" height="37.00" rx="0.8" fill="#49A6D4" />
<path d="M437.30 181.00 V144.90 H518.80" fill="none" stroke="#fff" stroke-opacity="0.33" stroke-width="0.6"/>
<path d="M437.60 181.30 H519.10 V145.20" fill="none" stroke="#000" stroke-opacity="0.18" stroke-width="0.6"/>
<rect x="434.00" y="146.90" width="3.6" height="5" rx="1.2" fill="#49A6D4"/>
<path d="M434.30 150.90 V147.90" fill="none" stroke="#fff" stroke-opacity="0.3" stroke-width="0.6"/>
<text x="511.40" y="152.10" fill="#fff" stroke="#fff" stroke-width="0.16" text-anchor="end" font-size="6.0">make new list from</text>
<text x="441.40" y="162.50" fill="#fff" stroke="#fff" stroke-width="0.16" text-anchor="start" font-size="6.0">mapping each</text>
<rect x="480.40" y="156.95" width="24.00" height="6.70" rx="1.7" fill="#f3a57a" />
<text x="482.60" y="162.50" fill="#000" stroke="#000" stroke-width="0.09" text-anchor="start" font-size="6.0">reading</text>
<text x="506.60" y="162.50" fill="#fff" stroke="#fff" stroke-width="0.16" text-anchor="start" font-size="6.0">to</text>
<rect x="519.00" y="144.60" width="69.60" height="10.00" rx="0.8" fill="#D05F2D" />
<path d="M519.30 154.00 V144.90 H588.00" fill="none" stroke="#fff" stroke-opacity="0.33" stroke-width="0.6"/>
<path d="M519.60 154.30 H588.30 V145.20" fill="none" stroke="#000" stroke-opacity="0.18" stroke-width="0.6"/>
<rect x="516.00" y="146.90" width="3.6" height="5" rx="1.2" fill="#D05F2D"/>
<path d="M516.30 150.90 V147.90" fill="none" stroke="#fff" stroke-opacity="0.3" stroke-width="0.6"/>
<text x="523.00" y="151.70" fill="#fff" stroke="#fff" stroke-width="0.16" text-anchor="start" font-size="6.0">get</text>
<rect x="533.60" y="146.65" width="51.80" height="6.70" rx="1.7" fill="#f0cdbd" />
<text x="535.80" y="152.20" fill="#000" stroke="#000" stroke-width="0.09" text-anchor="start" font-size="6.0">global Readings</text>
<rect x="579.40" y="147.35" width="5.2" height="5.30" rx="1.1" fill="#fff" fill-opacity="0.38"/>
<path d="M581.00 149.40 h2.2 l-1.1 1.6 z" fill="#D05F2D"/>
<rect x="444.40" y="165.60" width="134.20" height="13.80" rx="0.8" fill="#7C5385" />
<path d="M444.70 178.80 V165.90 H578.00" fill="none" stroke="#fff" stroke-opacity="0.33" stroke-width="0.6"/>
<path d="M445.00 179.10 H578.30 V166.20" fill="none" stroke="#000" stroke-opacity="0.18" stroke-width="0.6"/>
<rect x="441.40" y="167.90" width="3.6" height="5" rx="1.2" fill="#7C5385"/>
<path d="M441.70 171.90 V168.90" fill="none" stroke="#fff" stroke-opacity="0.3" stroke-width="0.6"/>
<text x="448.60" y="174.60" fill="#fff" stroke="#fff" stroke-width="0.16" text-anchor="start" font-size="6.0">call</text>
<rect x="461.40" y="169.05" width="37.00" height="6.70" rx="1.7" fill="#d3c6d8" />
<text x="463.60" y="174.60" fill="#000" stroke="#000" stroke-width="0.09" text-anchor="start" font-size="6.0">resistance</text>
<rect x="492.40" y="169.75" width="5.2" height="5.30" rx="1.1" fill="#fff" fill-opacity="0.38"/>
<path d="M494.00 171.80 h2.2 l-1.1 1.6 z" fill="#7C5385"/>
<text x="500.60" y="174.60" fill="#fff" stroke="#fff" stroke-width="0.16" text-anchor="start" font-size="6.0">reading</text>
<rect x="526.40" y="167.40" width="47.60" height="10.60" rx="0.8" fill="#D05F2D" />
<path d="M526.70 177.40 V167.70 H573.40" fill="none" stroke="#fff" stroke-opacity="0.33" stroke-width="0.6"/>
<path d="M527.00 177.70 H573.70 V168.00" fill="none" stroke="#000" stroke-opacity="0.18" stroke-width="0.6"/>
<rect x="523.40" y="169.70" width="3.6" height="5" rx="1.2" fill="#D05F2D"/>
<path d="M523.70 173.70 V170.70" fill="none" stroke="#fff" stroke-opacity="0.3" stroke-width="0.6"/>
<text x="531.00" y="174.80" fill="#fff" stroke="#fff" stroke-width="0.16" text-anchor="start" font-size="6.0">get</text>
<rect x="542.00" y="168.95" width="29.40" height="6.90" rx="1.7" fill="#f0cdbd" />
<text x="544.20" y="174.60" fill="#000" stroke="#000" stroke-width="0.09" text-anchor="start" font-size="6.0">reading</text>
<rect x="565.40" y="169.65" width="5.2" height="5.50" rx="1.1" fill="#fff" fill-opacity="0.38"/>
<path d="M567.00 171.80 h2.2 l-1.1 1.6 z" fill="#D05F2D"/>
<rect x="316.00" y="182.00" width="110.40" height="106.40" rx="0.8" fill="#D05F2D" />
<rect x="316.00" y="182.00" width="12.40" height="194.00" rx="0.8" fill="#D05F2D" />
<rect x="316.00" y="371.60" width="110.40" height="4.40" rx="1" fill="#D05F2D" />
<rect x="319.60" y="184.00" width="6.40" height="6.40" rx="1.2" fill="#2a2fc0" />
<circle cx="322.80" cy="187.20" r="1.55" fill="none" stroke="#fff" stroke-width="0.75"/>
<text x="330.00" y="189.50" fill="#fff" stroke="#fff" stroke-width="0.16" text-anchor="start" font-size="6.0">initialize local</text>
<rect x="367.40" y="184.05" width="43.00" height="6.70" rx="1.7" fill="#f3a57a" />
<text x="368.80" y="189.60" fill="#000" stroke="#000" stroke-width="0.09" text-anchor="start" font-size="6.0">rising_readings</text>
<text x="414.00" y="189.50" fill="#fff" stroke="#fff" stroke-width="0.16" text-anchor="start" font-size="6.0">to</text>
<text x="319.00" y="295.10" fill="#fff" stroke="#fff" stroke-width="0.16" text-anchor="start" font-size="6.0">in</text>
<rect x="426.00" y="182.40" width="98.80" height="105.40" rx="0.8" fill="#49A6D4" />
<path d="M426.30 287.20 V182.70 H524.20" fill="none" stroke="#fff" stroke-opacity="0.33" stroke-width="0.6"/>
<path d="M426.60 287.50 H524.50 V183.00" fill="none" stroke="#000" stroke-opacity="0.18" stroke-width="0.6"/>
<rect x="423.00" y="184.70" width="3.6" height="5" rx="1.2" fill="#49A6D4"/>
<path d="M423.30 188.70 V185.70" fill="none" stroke="#fff" stroke-opacity="0.3" stroke-width="0.6"/>
<text x="516.00" y="189.50" fill="#fff" stroke="#fff" stroke-width="0.16" text-anchor="end" font-size="6.0">make new filtered list from</text>
<rect x="524.40" y="182.40" width="70.00" height="9.60" rx="0.8" fill="#D05F2D" />
<path d="M524.70 191.40 V182.70 H593.80" fill="none" stroke="#fff" stroke-opacity="0.33" stroke-width="0.6"/>
<path d="M525.00 191.70 H594.10 V183.00" fill="none" stroke="#000" stroke-opacity="0.18" stroke-width="0.6"/>
<rect x="521.40" y="184.70" width="3.6" height="5" rx="1.2" fill="#D05F2D"/>
<path d="M521.70 188.70 V185.70" fill="none" stroke="#fff" stroke-opacity="0.3" stroke-width="0.6"/>
<text x="528.40" y="189.30" fill="#fff" stroke="#fff" stroke-width="0.16" text-anchor="start" font-size="6.0">get</text>
<rect x="539.00" y="183.85" width="53.00" height="6.90" rx="1.7" fill="#f0cdbd" />
<text x="541.20" y="189.50" fill="#000" stroke="#000" stroke-width="0.09" text-anchor="start" font-size="6.0">global Readings</text>
<rect x="586.00" y="184.55" width="5.2" height="5.50" rx="1.1" fill="#fff" fill-opacity="0.38"/>
<path d="M587.60 186.70 h2.2 l-1.1 1.6 z" fill="#D05F2D"/>
<text x="430.00" y="199.90" fill="#fff" stroke="#fff" stroke-width="0.16" text-anchor="start" font-size="6.0">keeping each</text>
<rect x="469.00" y="194.25" width="23.60" height="6.90" rx="1.7" fill="#f3a57a" />
<text x="471.20" y="199.90" fill="#000" stroke="#000" stroke-width="0.09" text-anchor="start" font-size="6.0">reading</text>
<text x="495.00" y="199.90" fill="#fff" stroke="#fff" stroke-width="0.16" text-anchor="start" font-size="6.0">passing</text>
<text x="430.00" y="210.10" fill="#fff" stroke="#fff" stroke-width="0.16" text-anchor="start" font-size="6.0">test</text>
<rect x="446.00" y="203.00" width="41.60" height="82.80" rx="0.8" fill="#77AB41" />
<path d="M446.30 285.20 V203.30 H487.00" fill="none" stroke="#fff" stroke-opacity="0.33" stroke-width="0.6"/>
<path d="M446.60 285.50 H487.30 V203.60" fill="none" stroke="#000" stroke-opacity="0.18" stroke-width="0.6"/>
<rect x="443.00" y="205.30" width="3.6" height="5" rx="1.2" fill="#77AB41"/>
<path d="M443.30 209.30 V206.30" fill="none" stroke="#fff" stroke-opacity="0.3" stroke-width="0.6"/>
<rect x="450.40" y="205.00" width="6.00" height="6.00" rx="1.2" fill="#2a2fc0" />
<circle cx="453.40" cy="208.00" r="1.55" fill="none" stroke="#fff" stroke-width="0.75"/>
<rect x="461.40" y="204.65" width="20.20" height="6.70" rx="1.7" fill="#cfe0b8" />
<text x="463.40" y="210.20" fill="#000" stroke="#000" stroke-width="0.09" text-anchor="start" font-size="6.0">and</text>
<rect x="475.60" y="205.35" width="5.2" height="5.30" rx="1.1" fill="#fff" fill-opacity="0.38"/>
<path d="M477.20 207.40 h2.2 l-1.1 1.6 z" fill="#77AB41"/>
<rect x="487.40" y="202.60" width="22.60" height="25.60" rx="0.8" fill="#3F71B5" />
<path d="M487.70 227.60 V202.90 H509.40" fill="none" stroke="#fff" stroke-opacity="0.33" stroke-width="0.6"/>
<path d="M488.00 227.90 H509.70 V203.20" fill="none" stroke="#000" stroke-opacity="0.18" stroke-width="0.6"/>
<rect x="484.40" y="204.90" width="3.6" height="5" rx="1.2" fill="#3F71B5"/>
<path d="M484.70 208.90 V205.90" fill="none" stroke="#fff" stroke-opacity="0.3" stroke-width="0.6"/>
<rect x="490.00" y="219.65" width="13.00" height="6.70" rx="1.7" fill="#b7c8e3" />
<text x="492.20" y="225.20" fill="#000" stroke="#000" stroke-width="0.09" text-anchor="start" font-size="6.0">&gt;</text>
<rect x="497.00" y="220.35" width="5.2" height="5.30" rx="1.1" fill="#fff" fill-opacity="0.38"/>
<path d="M498.60 222.40 h2.2 l-1.1 1.6 z" fill="#3F71B5"/>
<rect x="508.00" y="203.00" width="135.40" height="14.20" rx="0.8" fill="#7C5385" />
<path d="M508.30 216.60 V203.30 H642.80" fill="none" stroke="#fff" stroke-opacity="0.33" stroke-width="0.6"/>
<path d="M508.60 216.90 H643.10 V203.60" fill="none" stroke="#000" stroke-opacity="0.18" stroke-width="0.6"/>
<rect x="505.00" y="205.30" width="3.6" height="5" rx="1.2" fill="#7C5385"/>
<path d="M505.30 209.30 V206.30" fill="none" stroke="#fff" stroke-opacity="0.3" stroke-width="0.6"/>
<text x="513.00" y="212.20" fill="#fff" stroke="#fff" stroke-width="0.16" text-anchor="start" font-size="6.0">call</text>
<rect x="526.00" y="206.65" width="36.40" height="6.70" rx="1.7" fill="#d3c6d8" />
<text x="528.20" y="212.20" fill="#000" stroke="#000" stroke-width="0.09" text-anchor="start" font-size="6.0">resistance</text>
<rect x="556.40" y="207.35" width="5.2" height="5.30" rx="1.1" fill="#fff" fill-opacity="0.38"/>
<path d="M558.00 209.40 h2.2 l-1.1 1.6 z" fill="#7C5385"/>
<text x="565.00" y="212.20" fill="#fff" stroke="#fff" stroke-width="0.16" text-anchor="start" font-size="6.0">reading</text>
<rect x="591.40" y="205.00" width="48.00" height="10.60" rx="0.8" fill="#D05F2D" />
<path d="M591.70 215.00 V205.30 H638.80" fill="none" stroke="#fff" stroke-opacity="0.33" stroke-width="0.6"/>
<path d="M592.00 215.30 H639.10 V205.60" fill="none" stroke="#000" stroke-opacity="0.18" stroke-width="0.6"/>
<rect x="588.40" y="207.30" width="3.6" height="5" rx="1.2" fill="#D05F2D"/>
<path d="M588.70 211.30 V208.30" fill="none" stroke="#fff" stroke-opacity="0.3" stroke-width="0.6"/>
<text x="596.00" y="212.40" fill="#fff" stroke="#fff" stroke-width="0.16" text-anchor="start" font-size="6.0">get</text>
<rect x="606.00" y="206.55" width="30.00" height="6.90" rx="1.7" fill="#f0cdbd" />
<text x="608.20" y="212.20" fill="#000" stroke="#000" stroke-width="0.09" text-anchor="start" font-size="6.0">reading</text>
<rect x="630.00" y="207.25" width="5.2" height="5.50" rx="1.1" fill="#fff" fill-opacity="0.38"/>
<path d="M631.60 209.40 h2.2 l-1.1 1.6 z" fill="#D05F2D"/>
<rect x="509.60" y="218.00" width="49.40" height="9.60" rx="0.8" fill="#439970" />
<path d="M509.90 227.00 V218.30 H558.40" fill="none" stroke="#fff" stroke-opacity="0.33" stroke-width="0.6"/>
<path d="M510.20 227.30 H558.70 V218.60" fill="none" stroke="#000" stroke-opacity="0.18" stroke-width="0.6"/>
<rect x="506.60" y="220.30" width="3.6" height="5" rx="1.2" fill="#439970"/>
<path d="M506.90 224.30 V221.30" fill="none" stroke="#fff" stroke-opacity="0.3" stroke-width="0.6"/>
<rect x="511.60" y="219.35" width="17.40" height="6.70" rx="1.7" fill="#bcdccd" />
<text x="513.80" y="224.90" fill="#000" stroke="#000" stroke-width="0.09" text-anchor="start" font-size="6.0">R0</text>
<rect x="523.00" y="220.05" width="5.2" height="5.30" rx="1.1" fill="#fff" fill-opacity="0.38"/>
<path d="M524.60 222.10 h2.2 l-1.1 1.6 z" fill="#439970"/>
<text x="531.60" y="224.50" fill="#fff" stroke="#fff" stroke-width="0.16" text-anchor="start" font-size="6.0">.</text>
<rect x="535.60" y="219.35" width="20.80" height="6.70" rx="1.7" fill="#bcdccd" />
<text x="537.80" y="224.90" fill="#000" stroke="#000" stroke-width="0.09" text-anchor="start" font-size="6.0">Text</text>
<rect x="550.40" y="220.05" width="5.2" height="5.30" rx="1.1" fill="#fff" fill-opacity="0.38"/>
<path d="M552.00 222.10 h2.2 l-1.1 1.6 z" fill="#439970"/>
<rect x="487.40" y="228.60" width="22.60" height="57.00" rx="0.8" fill="#3F71B5" />
<path d="M487.70 285.00 V228.90 H509.40" fill="none" stroke="#fff" stroke-opacity="0.33" stroke-width="0.6"/>
<path d="M488.00 285.30 H509.70 V229.20" fill="none" stroke="#000" stroke-opacity="0.18" stroke-width="0.6"/>
<rect x="484.40" y="230.90" width="3.6" height="5" rx="1.2" fill="#3F71B5"/>
<path d="M484.70 234.90 V231.90" fill="none" stroke="#fff" stroke-opacity="0.3" stroke-width="0.6"/>
<rect x="490.00" y="244.65" width="13.00" height="6.90" rx="1.7" fill="#b7c8e3" />
<text x="492.20" y="250.30" fill="#000" stroke="#000" stroke-width="0.09" text-anchor="start" font-size="6.0">≤</text>
<rect x="497.00" y="245.35" width="5.2" height="5.50" rx="1.1" fill="#fff" fill-opacity="0.38"/>
<path d="M498.60 247.50 h2.2 l-1.1 1.6 z" fill="#3F71B5"/>
<rect x="508.00" y="228.40" width="135.20" height="14.20" rx="0.8" fill="#7C5385" />
<path d="M508.30 242.00 V228.70 H642.60" fill="none" stroke="#fff" stroke-opacity="0.33" stroke-width="0.6"/>
<path d="M508.60 242.30 H642.90 V229.00" fill="none" stroke="#000" stroke-opacity="0.18" stroke-width="0.6"/>
<rect x="505.00" y="230.70" width="3.6" height="5" rx="1.2" fill="#7C5385"/>
<path d="M505.30 234.70 V231.70" fill="none" stroke="#fff" stroke-opacity="0.3" stroke-width="0.6"/>
<text x="513.00" y="237.60" fill="#fff" stroke="#fff" stroke-width="0.16" text-anchor="start" font-size="6.0">call</text>
<rect x="526.00" y="232.05" width="36.40" height="6.70" rx="1.7" fill="#d3c6d8" />
<text x="528.20" y="237.60" fill="#000" stroke="#000" stroke-width="0.09" text-anchor="start" font-size="6.0">resistance</text>
<rect x="556.40" y="232.75" width="5.2" height="5.30" rx="1.1" fill="#fff" fill-opacity="0.38"/>
<path d="M558.00 234.80 h2.2 l-1.1 1.6 z" fill="#7C5385"/>
<text x="565.00" y="237.60" fill="#fff" stroke="#fff" stroke-width="0.16" text-anchor="start" font-size="6.0">reading</text>
<rect x="591.40" y="230.60" width="48.00" height="10.40" rx="0.8" fill="#D05F2D" />
<path d="M591.70 240.40 V230.90 H638.80" fill="none" stroke="#fff" stroke-opacity="0.33" stroke-width="0.6"/>
<path d="M592.00 240.70 H639.10 V231.20" fill="none" stroke="#000" stroke-opacity="0.18" stroke-width="0.6"/>
<rect x="588.40" y="232.90" width="3.6" height="5" rx="1.2" fill="#D05F2D"/>
<path d="M588.70 236.90 V233.90" fill="none" stroke="#fff" stroke-opacity="0.3" stroke-width="0.6"/>
<text x="596.00" y="237.90" fill="#fff" stroke="#fff" stroke-width="0.16" text-anchor="start" font-size="6.0">get</text>
<rect x="606.00" y="231.95" width="30.00" height="6.90" rx="1.7" fill="#f0cdbd" />
<text x="608.20" y="237.60" fill="#000" stroke="#000" stroke-width="0.09" text-anchor="start" font-size="6.0">reading</text>
<rect x="630.00" y="232.65" width="5.2" height="5.50" rx="1.1" fill="#fff" fill-opacity="0.38"/>
<path d="M631.60 234.80 h2.2 l-1.1 1.6 z" fill="#D05F2D"/>
<rect x="509.60" y="243.00" width="18.40" height="42.60" rx="0.8" fill="#3F71B5" />
<path d="M509.90 285.00 V243.30 H527.40" fill="none" stroke="#fff" stroke-opacity="0.33" stroke-width="0.6"/>
<path d="M510.20 285.30 H527.70 V243.60" fill="none" stroke="#000" stroke-opacity="0.18" stroke-width="0.6"/>
<rect x="506.60" y="245.30" width="3.6" height="5" rx="1.2" fill="#3F71B5"/>
<path d="M506.90 249.30 V246.30" fill="none" stroke="#fff" stroke-opacity="0.3" stroke-width="0.6"/>
<rect x="513.00" y="245.40" width="6.00" height="6.00" rx="1.2" fill="#2a2fc0" />
<circle cx="516.00" cy="248.40" r="1.55" fill="none" stroke="#fff" stroke-width="0.75"/>
<text x="514.80" y="261.10" fill="#fff" stroke="#fff" stroke-width="0.16" text-anchor="middle" font-size="6.0">+</text>
<rect x="527.00" y="243.60" width="50.00" height="9.60" rx="0.8" fill="#439970" />
<path d="M527.30 252.60 V243.90 H576.40" fill="none" stroke="#fff" stroke-opacity="0.33" stroke-width="0.6"/>
<path d="M527.60 252.90 H576.70 V244.20" fill="none" stroke="#000" stroke-opacity="0.18" stroke-width="0.6"/>
<rect x="524.00" y="245.90" width="3.6" height="5" rx="1.2" fill="#439970"/>
<path d="M524.30 249.90 V246.90" fill="none" stroke="#fff" stroke-opacity="0.3" stroke-width="0.6"/>
<rect x="530.00" y="244.95" width="17.00" height="6.70" rx="1.7" fill="#bcdccd" />
<text x="532.20" y="250.50" fill="#000" stroke="#000" stroke-width="0.09" text-anchor="start" font-size="6.0">R0</text>
<rect x="541.00" y="245.65" width="5.2" height="5.30" rx="1.1" fill="#fff" fill-opacity="0.38"/>
<path d="M542.60 247.70 h2.2 l-1.1 1.6 z" fill="#439970"/>
<text x="549.60" y="250.10" fill="#fff" stroke="#fff" stroke-width="0.16" text-anchor="start" font-size="6.0">.</text>
<rect x="553.00" y="244.95" width="21.40" height="6.70" rx="1.7" fill="#bcdccd" />
<text x="555.20" y="250.50" fill="#000" stroke="#000" stroke-width="0.09" text-anchor="start" font-size="6.0">Text</text>
<rect x="568.40" y="245.65" width="5.2" height="5.30" rx="1.1" fill="#fff" fill-opacity="0.38"/>
<path d="M570.00 247.70 h2.2 l-1.1 1.6 z" fill="#439970"/>
<rect x="527.00" y="254.40" width="19.00" height="31.20" rx="0.8" fill="#3F71B5" />
<path d="M527.30 285.00 V254.70 H545.40" fill="none" stroke="#fff" stroke-opacity="0.33" stroke-width="0.6"/>
<path d="M527.60 285.30 H545.70 V255.00" fill="none" stroke="#000" stroke-opacity="0.18" stroke-width="0.6"/>
<rect x="524.00" y="256.70" width="3.6" height="5" rx="1.2" fill="#3F71B5"/>
<path d="M524.30 260.70 V257.70" fill="none" stroke="#fff" stroke-opacity="0.3" stroke-width="0.6"/>
<rect x="532.00" y="256.00" width="6.00" height="6.00" rx="1.2" fill="#2a2fc0" />
<circle cx="535.00" cy="259.00" r="1.55" fill="none" stroke="#fff" stroke-width="0.75"/>
<text x="533.60" y="272.50" fill="#fff" stroke="#fff" stroke-width="0.16" text-anchor="middle" font-size="6.0">×</text>
<rect x="547.00" y="254.00" width="19.00" height="9.80" rx="0.8" fill="#3F71B5" />
<path d="M547.30 263.20 V254.30 H565.40" fill="none" stroke="#fff" stroke-opacity="0.33" stroke-width="0.6"/>
<path d="M547.60 263.50 H565.70 V254.60" fill="none" stroke="#000" stroke-opacity="0.18" stroke-width="0.6"/>
<rect x="544.00" y="256.30" width="3.6" height="5" rx="1.2" fill="#3F71B5"/>
<path d="M544.30 260.30 V257.30" fill="none" stroke="#fff" stroke-opacity="0.3" stroke-width="0.6"/>
<rect x="548.60" y="256.00" width="15.40" height="6.20" rx="1.4" fill="#c6d4ea" />
<text x="556.30" y="261.20" fill="#000" stroke="#000" stroke-width="0.09" text-anchor="middle" font-size="6.0">0.90</text>
<rect x="544.00" y="264.60" width="16.00" height="21.00" rx="0.8" fill="#3F71B5" />
<path d="M544.30 285.00 V264.90 H559.40" fill="none" stroke="#fff" stroke-opacity="0.33" stroke-width="0.6"/>
<path d="M544.60 285.30 H559.70 V265.20" fill="none" stroke="#000" stroke-opacity="0.18" stroke-width="0.6"/>
<rect x="541.00" y="266.90" width="3.6" height="5" rx="1.2" fill="#3F71B5"/>
<path d="M541.30 270.90 V267.90" fill="none" stroke="#fff" stroke-opacity="0.3" stroke-width="0.6"/>
<text x="551.00" y="282.70" fill="#fff" stroke="#fff" stroke-width="0.16" text-anchor="middle" font-size="6.0">-</text>
<rect x="559.00" y="265.00" width="50.40" height="10.40" rx="0.8" fill="#439970" />
<path d="M559.30 274.80 V265.30 H608.80" fill="none" stroke="#fff" stroke-opacity="0.33" stroke-width="0.6"/>
<path d="M559.60 275.10 H609.10 V265.60" fill="none" stroke="#000" stroke-opacity="0.18" stroke-width="0.6"/>
<rect x="556.00" y="267.30" width="3.6" height="5" rx="1.2" fill="#439970"/>
<path d="M556.30 271.30 V268.30" fill="none" stroke="#fff" stroke-opacity="0.3" stroke-width="0.6"/>
<rect x="561.40" y="266.75" width="18.00" height="6.70" rx="1.7" fill="#bcdccd" />
<text x="563.60" y="272.30" fill="#000" stroke="#000" stroke-width="0.09" text-anchor="start" font-size="6.0">Rg</text>
<rect x="573.40" y="267.45" width="5.2" height="5.30" rx="1.1" fill="#fff" fill-opacity="0.38"/>
<path d="M575.00 269.50 h2.2 l-1.1 1.6 z" fill="#439970"/>
<text x="582.00" y="271.90" fill="#fff" stroke="#fff" stroke-width="0.16" text-anchor="start" font-size="6.0">.</text>
<rect x="586.00" y="266.75" width="20.40" height="6.70" rx="1.7" fill="#bcdccd" />
<text x="588.20" y="272.30" fill="#000" stroke="#000" stroke-width="0.09" text-anchor="start" font-size="6.0">Text</text>
<rect x="600.40" y="267.45" width="5.2" height="5.30" rx="1.1" fill="#fff" fill-opacity="0.38"/>
<path d="M602.00 269.50 h2.2 l-1.1 1.6 z" fill="#439970"/>
<rect x="559.00" y="275.60" width="50.40" height="10.20" rx="0.8" fill="#439970" />
<path d="M559.30 285.20 V275.90 H608.80" fill="none" stroke="#fff" stroke-opacity="0.33" stroke-width="0.6"/>
<path d="M559.60 285.50 H609.10 V276.20" fill="none" stroke="#000" stroke-opacity="0.18" stroke-width="0.6"/>
<rect x="556.00" y="277.90" width="3.6" height="5" rx="1.2" fill="#439970"/>
<path d="M556.30 281.90 V278.90" fill="none" stroke="#fff" stroke-opacity="0.3" stroke-width="0.6"/>
<rect x="561.40" y="277.25" width="18.00" height="6.70" rx="1.7" fill="#bcdccd" />
<text x="563.60" y="282.80" fill="#000" stroke="#000" stroke-width="0.09" text-anchor="start" font-size="6.0">R0</text>
<rect x="573.40" y="277.95" width="5.2" height="5.30" rx="1.1" fill="#fff" fill-opacity="0.38"/>
<path d="M575.00 280.00 h2.2 l-1.1 1.6 z" fill="#439970"/>
<text x="582.00" y="282.40" fill="#fff" stroke="#fff" stroke-width="0.16" text-anchor="start" font-size="6.0">.</text>
<rect x="586.00" y="277.25" width="20.40" height="6.70" rx="1.7" fill="#bcdccd" />
<text x="588.20" y="282.80" fill="#000" stroke="#000" stroke-width="0.09" text-anchor="start" font-size="6.0">Text</text>
<rect x="600.40" y="277.95" width="5.2" height="5.30" rx="1.1" fill="#fff" fill-opacity="0.38"/>
<path d="M602.00 280.00 h2.2 l-1.1 1.6 z" fill="#439970"/>
<rect x="327.70" y="287.80" width="33.10" height="14.60" rx="1.5" fill="#E5BD4A" />
<rect x="327.70" y="287.80" width="21.30" height="83.60" rx="1.5" fill="#E5BD4A" />
<rect x="327.70" y="364.80" width="33.10" height="6.60" rx="1.5" fill="#E5BD4A" />
<rect x="328.40" y="288.40" width="32.00" height="13.60" rx="1.2" fill="#B18E35" />
<rect x="328.40" y="288.40" width="20.20" height="82.40" rx="1.2" fill="#B18E35" />
<rect x="328.40" y="365.40" width="31.60" height="5.40" rx="1.2" fill="#B18E35" />
<rect x="332.60" y="290.00" width="6.40" height="6.40" rx="1.2" fill="#2a2fc0" />
<circle cx="335.80" cy="293.20" r="1.55" fill="none" stroke="#fff" stroke-width="0.75"/>
<text x="343.00" y="295.10" fill="#fff" stroke="#fff" stroke-width="0.16" text-anchor="start" font-size="6.0">if</text>
<text x="332.60" y="310.10" fill="#fff" stroke="#fff" stroke-width="0.16" text-anchor="start" font-size="6.0">then</text>
<rect x="360.40" y="288.00" width="167.00" height="14.00" rx="0.8" fill="#3F71B5" />
<path d="M360.70 301.40 V288.30 H526.80" fill="none" stroke="#fff" stroke-opacity="0.33" stroke-width="0.6"/>
<path d="M361.00 301.70 H527.10 V288.60" fill="none" stroke="#000" stroke-opacity="0.18" stroke-width="0.6"/>
<rect x="357.40" y="290.30" width="3.6" height="5" rx="1.2" fill="#3F71B5"/>
<path d="M357.70 294.30 V291.30" fill="none" stroke="#fff" stroke-opacity="0.3" stroke-width="0.6"/>
<rect x="366.00" y="290.60" width="56.40" height="9.60" rx="0.8" fill="#49A6D4" />
<path d="M366.30 299.60 V290.90 H421.80" fill="none" stroke="#fff" stroke-opacity="0.33" stroke-width="0.6"/>
<path d="M366.60 299.90 H422.10 V291.20" fill="none" stroke="#000" stroke-opacity="0.18" stroke-width="0.6"/>
<rect x="363.00" y="292.90" width="3.6" height="5" rx="1.2" fill="#49A6D4"/>
<path d="M363.30 296.90 V293.90" fill="none" stroke="#fff" stroke-opacity="0.3" stroke-width="0.6"/>
<text x="371.60" y="297.50" fill="#fff" stroke="#fff" stroke-width="0.16" text-anchor="start" font-size="6.0">length of list  list</text>
<rect x="422.00" y="290.60" width="68.00" height="9.60" rx="0.8" fill="#D05F2D" />
<path d="M422.30 299.60 V290.90 H489.40" fill="none" stroke="#fff" stroke-opacity="0.33" stroke-width="0.6"/>
<path d="M422.60 299.90 H489.70 V291.20" fill="none" stroke="#000" stroke-opacity="0.18" stroke-width="0.6"/>
<rect x="419.00" y="292.90" width="3.6" height="5" rx="1.2" fill="#D05F2D"/>
<path d="M419.30 296.90 V293.90" fill="none" stroke="#fff" stroke-opacity="0.3" stroke-width="0.6"/>
<text x="426.00" y="297.50" fill="#fff" stroke="#fff" stroke-width="0.16" text-anchor="start" font-size="6.0">get</text>
<rect x="436.60" y="292.05" width="50.40" height="6.70" rx="1.7" fill="#f0cdbd" />
<text x="438.80" y="297.60" fill="#000" stroke="#000" stroke-width="0.09" text-anchor="start" font-size="6.0">rising_readings</text>
<rect x="481.00" y="292.75" width="5.2" height="5.30" rx="1.1" fill="#fff" fill-opacity="0.38"/>
<path d="M482.60 294.80 h2.2 l-1.1 1.6 z" fill="#D05F2D"/>
<rect x="492.00" y="292.05" width="13.60" height="6.70" rx="1.7" fill="#b7c8e3" />
<text x="494.20" y="297.60" fill="#000" stroke="#000" stroke-width="0.09" text-anchor="start" font-size="6.0">&gt;</text>
<rect x="499.60" y="292.75" width="5.2" height="5.30" rx="1.1" fill="#fff" fill-opacity="0.38"/>
<path d="M501.20 294.80 h2.2 l-1.1 1.6 z" fill="#3F71B5"/>
<rect x="511.00" y="291.00" width="11.40" height="9.20" rx="0.8" fill="#3F71B5" />
<path d="M511.30 299.60 V291.30 H521.80" fill="none" stroke="#fff" stroke-opacity="0.33" stroke-width="0.6"/>
<path d="M511.60 299.90 H522.10 V291.60" fill="none" stroke="#000" stroke-opacity="0.18" stroke-width="0.6"/>
<rect x="508.00" y="293.30" width="3.6" height="5" rx="1.2" fill="#3F71B5"/>
<path d="M508.30 297.30 V294.30" fill="none" stroke="#fff" stroke-opacity="0.3" stroke-width="0.6"/>
<rect x="513.00" y="292.40" width="7.20" height="6.20" rx="1.4" fill="#c6d4ea" />
<text x="516.60" y="297.60" fill="#000" stroke="#000" stroke-width="0.09" text-anchor="middle" font-size="6.0">1</text>
<rect x="348.60" y="302.60" width="95.20" height="63.20" rx="0.8" fill="#266643" />
<path d="M348.90 365.20 V302.90 H443.20" fill="none" stroke="#fff" stroke-opacity="0.33" stroke-width="0.6"/>
<path d="M349.20 365.50 H443.50 V303.20" fill="none" stroke="#000" stroke-opacity="0.18" stroke-width="0.6"/>
<text x="352.20" y="310.10" fill="#fff" stroke="#fff" stroke-width="0.16" text-anchor="start" font-size="6.0">set</text>
<rect x="364.40" y="304.65" width="35.20" height="6.70" rx="1.7" fill="#b4cbbd" />
<text x="366.60" y="310.20" fill="#000" stroke="#000" stroke-width="0.09" text-anchor="start" font-size="6.0">Res_time</text>
<rect x="393.60" y="305.35" width="5.2" height="5.30" rx="1.1" fill="#fff" fill-opacity="0.38"/>
<path d="M395.20 307.40 h2.2 l-1.1 1.6 z" fill="#266643"/>
<text x="401.80" y="309.70" fill="#fff" stroke="#fff" stroke-width="0.16" text-anchor="start" font-size="6.0">.</text>
<rect x="406.00" y="304.65" width="21.00" height="6.70" rx="1.7" fill="#b4cbbd" />
<text x="408.20" y="310.20" fill="#000" stroke="#000" stroke-width="0.09" text-anchor="start" font-size="6.0">Text</text>
<rect x="421.00" y="305.35" width="5.2" height="5.30" rx="1.1" fill="#fff" fill-opacity="0.38"/>
<path d="M422.60 307.40 h2.2 l-1.1 1.6 z" fill="#266643"/>
<text x="431.00" y="310.10" fill="#fff" stroke="#fff" stroke-width="0.16" text-anchor="start" font-size="6.0">to</text>
<rect x="443.40" y="302.60" width="14.00" height="63.20" rx="0.8" fill="#3F71B5" />
<path d="M443.70 365.20 V302.90 H456.80" fill="none" stroke="#fff" stroke-opacity="0.33" stroke-width="0.6"/>
<path d="M444.00 365.50 H457.10 V303.20" fill="none" stroke="#000" stroke-opacity="0.18" stroke-width="0.6"/>
<rect x="440.40" y="304.90" width="3.6" height="5" rx="1.2" fill="#3F71B5"/>
<path d="M440.70 308.90 V305.90" fill="none" stroke="#fff" stroke-opacity="0.3" stroke-width="0.6"/>
<text x="448.40" y="341.50" fill="#fff" stroke="#fff" stroke-width="0.16" text-anchor="middle" font-size="6.0">-</text>
<rect x="457.00" y="302.40" width="44.40" height="31.80" rx="0.8" fill="#7C5385" />
<path d="M457.30 333.60 V302.70 H500.80" fill="none" stroke="#fff" stroke-opacity="0.33" stroke-width="0.6"/>
<path d="M457.60 333.90 H501.10 V303.00" fill="none" stroke="#000" stroke-opacity="0.18" stroke-width="0.6"/>
<rect x="454.00" y="304.70" width="3.6" height="5" rx="1.2" fill="#7C5385"/>
<path d="M454.30 308.70 V305.70" fill="none" stroke="#fff" stroke-opacity="0.3" stroke-width="0.6"/>
<text x="461.00" y="310.10" fill="#fff" stroke="#fff" stroke-width="0.16" text-anchor="start" font-size="6.0">call</text>
<rect x="473.60" y="304.65" width="21.40" height="6.70" rx="1.7" fill="#d3c6d8" />
<text x="475.80" y="310.20" fill="#000" stroke="#000" stroke-width="0.09" text-anchor="start" font-size="6.0">time</text>
<rect x="489.00" y="305.35" width="5.2" height="5.30" rx="1.1" fill="#fff" fill-opacity="0.38"/>
<path d="M490.60 307.40 h2.2 l-1.1 1.6 z" fill="#7C5385"/>
<text x="493.60" y="320.50" fill="#fff" stroke="#fff" stroke-width="0.16" text-anchor="end" font-size="6.0">reading</text>
<rect x="501.00" y="313.00" width="60.40" height="20.80" rx="0.8" fill="#49A6D4" />
<path d="M501.30 333.20 V313.30 H560.80" fill="none" stroke="#fff" stroke-opacity="0.33" stroke-width="0.6"/>
<path d="M501.60 333.50 H561.10 V313.60" fill="none" stroke="#000" stroke-opacity="0.18" stroke-width="0.6"/>
<rect x="498.00" y="315.30" width="3.6" height="5" rx="1.2" fill="#49A6D4"/>
<path d="M498.30 319.30 V316.30" fill="none" stroke="#fff" stroke-opacity="0.3" stroke-width="0.6"/>
<text x="505.60" y="320.30" fill="#fff" stroke="#fff" stroke-width="0.16" text-anchor="start" font-size="6.0">select list item  list</text>
<text x="553.60" y="330.70" fill="#fff" stroke="#fff" stroke-width="0.16" text-anchor="end" font-size="6.0">index</text>
<rect x="561.00" y="313.00" width="67.00" height="10.60" rx="0.8" fill="#D05F2D" />
<path d="M561.30 323.00 V313.30 H627.40" fill="none" stroke="#fff" stroke-opacity="0.33" stroke-width="0.6"/>
<path d="M561.60 323.30 H627.70 V313.60" fill="none" stroke="#000" stroke-opacity="0.18" stroke-width="0.6"/>
<rect x="558.00" y="315.30" width="3.6" height="5" rx="1.2" fill="#D05F2D"/>
<path d="M558.30 319.30 V316.30" fill="none" stroke="#fff" stroke-opacity="0.3" stroke-width="0.6"/>
<text x="564.60" y="320.40" fill="#fff" stroke="#fff" stroke-width="0.16" text-anchor="start" font-size="6.0">get</text>
<rect x="575.00" y="314.85" width="50.00" height="6.70" rx="1.7" fill="#f0cdbd" />
<text x="577.20" y="320.40" fill="#000" stroke="#000" stroke-width="0.09" text-anchor="start" font-size="6.0">rising_readings</text>
<rect x="619.00" y="315.55" width="5.2" height="5.30" rx="1.1" fill="#fff" fill-opacity="0.38"/>
<path d="M620.60 317.60 h2.2 l-1.1 1.6 z" fill="#D05F2D"/>
<rect x="561.00" y="324.00" width="54.40" height="9.80" rx="0.8" fill="#49A6D4" />
<path d="M561.30 333.20 V324.30 H614.80" fill="none" stroke="#fff" stroke-opacity="0.33" stroke-width="0.6"/>
<path d="M561.60 333.50 H615.10 V324.60" fill="none" stroke="#000" stroke-opacity="0.18" stroke-width="0.6"/>
<rect x="558.00" y="326.30" width="3.6" height="5" rx="1.2" fill="#49A6D4"/>
<path d="M558.30 330.30 V327.30" fill="none" stroke="#fff" stroke-opacity="0.3" stroke-width="0.6"/>
<text x="564.60" y="331.10" fill="#fff" stroke="#fff" stroke-width="0.16" text-anchor="start" font-size="6.0">length of list  list</text>
<rect x="615.00" y="324.00" width="67.40" height="9.80" rx="0.8" fill="#D05F2D" />
<path d="M615.30 333.20 V324.30 H681.80" fill="none" stroke="#fff" stroke-opacity="0.33" stroke-width="0.6"/>
<path d="M615.60 333.50 H682.10 V324.60" fill="none" stroke="#000" stroke-opacity="0.18" stroke-width="0.6"/>
<rect x="612.00" y="326.30" width="3.6" height="5" rx="1.2" fill="#D05F2D"/>
<path d="M612.30 330.30 V327.30" fill="none" stroke="#fff" stroke-opacity="0.3" stroke-width="0.6"/>
<text x="619.00" y="331.00" fill="#fff" stroke="#fff" stroke-width="0.16" text-anchor="start" font-size="6.0">get</text>
<rect x="630.00" y="325.65" width="50.00" height="6.70" rx="1.7" fill="#f0cdbd" />
<text x="632.20" y="331.20" fill="#000" stroke="#000" stroke-width="0.09" text-anchor="start" font-size="6.0">rising_readings</text>
<rect x="674.00" y="326.35" width="5.2" height="5.30" rx="1.1" fill="#fff" fill-opacity="0.38"/>
<path d="M675.60 328.40 h2.2 l-1.1 1.6 z" fill="#D05F2D"/>
<rect x="457.00" y="334.40" width="44.40" height="31.40" rx="0.8" fill="#7C5385" />
<path d="M457.30 365.20 V334.70 H500.80" fill="none" stroke="#fff" stroke-opacity="0.33" stroke-width="0.6"/>
<path d="M457.60 365.50 H501.10 V335.00" fill="none" stroke="#000" stroke-opacity="0.18" stroke-width="0.6"/>
<rect x="454.00" y="336.70" width="3.6" height="5" rx="1.2" fill="#7C5385"/>
<path d="M454.30 340.70 V337.70" fill="none" stroke="#fff" stroke-opacity="0.3" stroke-width="0.6"/>
<text x="461.00" y="342.10" fill="#fff" stroke="#fff" stroke-width="0.16" text-anchor="start" font-size="6.0">call</text>
<rect x="473.60" y="336.65" width="21.40" height="6.70" rx="1.7" fill="#d3c6d8" />
<text x="475.80" y="342.20" fill="#000" stroke="#000" stroke-width="0.09" text-anchor="start" font-size="6.0">time</text>
<rect x="489.00" y="337.35" width="5.2" height="5.30" rx="1.1" fill="#fff" fill-opacity="0.38"/>
<path d="M490.60 339.40 h2.2 l-1.1 1.6 z" fill="#7C5385"/>
<text x="493.60" y="352.50" fill="#fff" stroke="#fff" stroke-width="0.16" text-anchor="end" font-size="6.0">reading</text>
<rect x="501.00" y="345.00" width="60.40" height="20.80" rx="0.8" fill="#49A6D4" />
<path d="M501.30 365.20 V345.30 H560.80" fill="none" stroke="#fff" stroke-opacity="0.33" stroke-width="0.6"/>
<path d="M501.60 365.50 H561.10 V345.60" fill="none" stroke="#000" stroke-opacity="0.18" stroke-width="0.6"/>
<rect x="498.00" y="347.30" width="3.6" height="5" rx="1.2" fill="#49A6D4"/>
<path d="M498.30 351.30 V348.30" fill="none" stroke="#fff" stroke-opacity="0.3" stroke-width="0.6"/>
<text x="505.60" y="352.30" fill="#fff" stroke="#fff" stroke-width="0.16" text-anchor="start" font-size="6.0">select list item  list</text>
<text x="553.60" y="362.70" fill="#fff" stroke="#fff" stroke-width="0.16" text-anchor="end" font-size="6.0">index</text>
<rect x="561.00" y="345.00" width="67.00" height="10.60" rx="0.8" fill="#D05F2D" />
<path d="M561.30 355.00 V345.30 H627.40" fill="none" stroke="#fff" stroke-opacity="0.33" stroke-width="0.6"/>
<path d="M561.60 355.30 H627.70 V345.60" fill="none" stroke="#000" stroke-opacity="0.18" stroke-width="0.6"/>
<rect x="558.00" y="347.30" width="3.6" height="5" rx="1.2" fill="#D05F2D"/>
<path d="M558.30 351.30 V348.30" fill="none" stroke="#fff" stroke-opacity="0.3" stroke-width="0.6"/>
<text x="564.60" y="352.40" fill="#fff" stroke="#fff" stroke-width="0.16" text-anchor="start" font-size="6.0">get</text>
<rect x="575.00" y="346.85" width="50.00" height="6.70" rx="1.7" fill="#f0cdbd" />
<text x="577.20" y="352.40" fill="#000" stroke="#000" stroke-width="0.09" text-anchor="start" font-size="6.0">rising_readings</text>
<rect x="619.00" y="347.55" width="5.2" height="5.30" rx="1.1" fill="#fff" fill-opacity="0.38"/>
<path d="M620.60 349.60 h2.2 l-1.1 1.6 z" fill="#D05F2D"/>
<rect x="561.00" y="356.00" width="11.40" height="9.80" rx="0.8" fill="#3F71B5" />
<path d="M561.30 365.20 V356.30 H571.80" fill="none" stroke="#fff" stroke-opacity="0.33" stroke-width="0.6"/>
<path d="M561.60 365.50 H572.10 V356.60" fill="none" stroke="#000" stroke-opacity="0.18" stroke-width="0.6"/>
<rect x="558.00" y="358.30" width="3.6" height="5" rx="1.2" fill="#3F71B5"/>
<path d="M558.30 362.30 V359.30" fill="none" stroke="#fff" stroke-opacity="0.3" stroke-width="0.6"/>
<rect x="563.20" y="357.40" width="7.00" height="6.00" rx="1.4" fill="#c6d4ea" />
<text x="566.70" y="362.50" fill="#000" stroke="#000" stroke-width="0.09" text-anchor="middle" font-size="6.0">1</text>
<rect x="316.00" y="381.60" width="130.80" height="10.60" rx="0.8" fill="#266643" />
<path d="M316.30 391.60 V381.90 H446.20" fill="none" stroke="#fff" stroke-opacity="0.33" stroke-width="0.6"/>
<path d="M316.60 391.90 H446.50 V382.20" fill="none" stroke="#000" stroke-opacity="0.18" stroke-width="0.6"/>
<text x="319.60" y="389.10" fill="#fff" stroke="#fff" stroke-width="0.16" text-anchor="start" font-size="6.0">set</text>
<rect x="331.00" y="383.65" width="37.00" height="6.70" rx="1.7" fill="#b4cbbd" />
<text x="333.20" y="389.20" fill="#000" stroke="#000" stroke-width="0.09" text-anchor="start" font-size="6.0">NOPRgas</text>
<rect x="362.00" y="384.35" width="5.2" height="5.30" rx="1.1" fill="#fff" fill-opacity="0.38"/>
<path d="M363.60 386.40 h2.2 l-1.1 1.6 z" fill="#266643"/>
<text x="370.20" y="388.70" fill="#fff" stroke="#fff" stroke-width="0.16" text-anchor="start" font-size="6.0">.</text>
<rect x="374.00" y="383.65" width="56.00" height="6.70" rx="1.7" fill="#b4cbbd" />
<text x="376.20" y="389.20" fill="#000" stroke="#000" stroke-width="0.09" text-anchor="start" font-size="6.0">BackgroundColor</text>
<rect x="424.00" y="384.35" width="5.2" height="5.30" rx="1.1" fill="#fff" fill-opacity="0.38"/>
<path d="M425.60 386.40 h2.2 l-1.1 1.6 z" fill="#266643"/>
<text x="434.00" y="389.10" fill="#fff" stroke="#fff" stroke-width="0.16" text-anchor="start" font-size="6.0">to</text>
<rect x="447.00" y="381.40" width="14.60" height="10.20" rx="0.8" fill="#7D7D7D" />
<path d="M447.30 391.00 V381.70 H461.00" fill="none" stroke="#fff" stroke-opacity="0.33" stroke-width="0.6"/>
<path d="M447.60 391.30 H461.30 V382.00" fill="none" stroke="#000" stroke-opacity="0.18" stroke-width="0.6"/>
<rect x="444.00" y="383.70" width="3.6" height="5" rx="1.2" fill="#7D7D7D"/>
<path d="M444.30 387.70 V384.70" fill="none" stroke="#fff" stroke-opacity="0.3" stroke-width="0.6"/>
<rect x="449.00" y="383.20" width="10.20" height="6.40" rx="0.6" fill="#33cc00" />
<rect x="316.00" y="392.20" width="93.40" height="10.40" rx="0.8" fill="#266643" />
<path d="M316.30 402.00 V392.50 H408.80" fill="none" stroke="#fff" stroke-opacity="0.33" stroke-width="0.6"/>
<path d="M316.60 402.30 H409.10 V392.80" fill="none" stroke="#000" stroke-opacity="0.18" stroke-width="0.6"/>
<text x="319.60" y="399.50" fill="#fff" stroke="#fff" stroke-width="0.16" text-anchor="start" font-size="6.0">set</text>
<rect x="331.00" y="393.85" width="37.00" height="6.70" rx="1.7" fill="#b4cbbd" />
<text x="333.20" y="399.40" fill="#000" stroke="#000" stroke-width="0.09" text-anchor="start" font-size="6.0">NRPOgas</text>
<rect x="362.00" y="394.55" width="5.2" height="5.30" rx="1.1" fill="#fff" fill-opacity="0.38"/>
<path d="M363.60 396.60 h2.2 l-1.1 1.6 z" fill="#266643"/>
<text x="370.20" y="399.10" fill="#fff" stroke="#fff" stroke-width="0.16" text-anchor="start" font-size="6.0">.</text>
<rect x="374.00" y="393.85" width="21.40" height="6.70" rx="1.7" fill="#b4cbbd" />
<text x="376.20" y="399.40" fill="#000" stroke="#000" stroke-width="0.09" text-anchor="start" font-size="6.0">Text</text>
<rect x="389.40" y="394.55" width="5.2" height="5.30" rx="1.1" fill="#fff" fill-opacity="0.38"/>
<path d="M391.00 396.60 h2.2 l-1.1 1.6 z" fill="#266643"/>
<text x="399.00" y="399.50" fill="#fff" stroke="#fff" stroke-width="0.16" text-anchor="start" font-size="6.0">to</text>
<rect x="409.00" y="392.00" width="40.00" height="10.20" rx="0.8" fill="#B32D5E" />
<path d="M409.30 401.60 V392.30 H448.40" fill="none" stroke="#fff" stroke-opacity="0.33" stroke-width="0.6"/>
<path d="M409.60 401.90 H448.70 V392.60" fill="none" stroke="#000" stroke-opacity="0.18" stroke-width="0.6"/>
<rect x="406.00" y="394.30" width="3.6" height="5" rx="1.2" fill="#B32D5E"/>
<path d="M406.30 398.30 V395.30" fill="none" stroke="#fff" stroke-opacity="0.3" stroke-width="0.6"/>
<text x="416.20" y="398.83" fill="#fff" stroke="#fff" stroke-width="0.16" text-anchor="end" font-size="5.5">“</text>
<rect x="420.00" y="393.65" width="21.00" height="6.70" rx="1.7" fill="#ecc5d3" />
<text x="422.40" y="399.20" fill="#000" stroke="#000" stroke-width="0.09" text-anchor="start" font-size="6.0">NOPR</text>
<text x="443.40" y="398.83" fill="#fff" stroke="#fff" stroke-width="0.16" text-anchor="start" font-size="5.5">”</text>
<path d="M321.30 85.70 h6.8 v0.3 l-1.6 1.6 h-3 l-1.6 -1.6 z" fill="#B18E35"/>
<path d="M321.20 86.00 l1.7 1.7 h2.8 l1.7 -1.7" fill="none" stroke="#F8CB38" stroke-opacity="0.9" stroke-width="0.5"/>
<path d="M321.30 123.30 h6.8 v0.3 l-1.6 1.6 h-3 l-1.6 -1.6 z" fill="#266643"/>
<path d="M321.20 123.60 l1.7 1.7 h2.8 l1.7 -1.7" fill="none" stroke="#fff" stroke-opacity="0.33" stroke-width="0.5"/>
<path d="M321.30 133.90 h6.8 v0.3 l-1.6 1.6 h-3 l-1.6 -1.6 z" fill="#266643"/>
<path d="M321.20 134.20 l1.7 1.7 h2.8 l1.7 -1.7" fill="none" stroke="#fff" stroke-opacity="0.33" stroke-width="0.5"/>
<path d="M321.30 143.90 h6.8 v0.3 l-1.6 1.6 h-3 l-1.6 -1.6 z" fill="#266643"/>
<path d="M321.20 144.20 l1.7 1.7 h2.8 l1.7 -1.7" fill="none" stroke="#fff" stroke-opacity="0.33" stroke-width="0.5"/>
<path d="M321.30 181.70 h6.8 v0.3 l-1.6 1.6 h-3 l-1.6 -1.6 z" fill="#266643"/>
<path d="M321.20 182.00 l1.7 1.7 h2.8 l1.7 -1.7" fill="none" stroke="#fff" stroke-opacity="0.33" stroke-width="0.5"/>
<path d="M333.70 287.90 h6.8 v0.3 l-1.6 1.6 h-3 l-1.6 -1.6 z" fill="#D05F2D"/>
<path d="M333.60 288.20 l1.7 1.7 h2.8 l1.7 -1.7" fill="none" stroke="#E5BD4A" stroke-opacity="0.9" stroke-width="0.5"/>
<path d="M353.90 302.30 h6.8 v0.3 l-1.6 1.6 h-3 l-1.6 -1.6 z" fill="#B18E35"/>
<path d="M353.80 302.60 l1.7 1.7 h2.8 l1.7 -1.7" fill="none" stroke="#E5BD4A" stroke-opacity="0.9" stroke-width="0.5"/>
<path d="M353.90 365.50 h6.8 v0.3 l-1.6 1.6 h-3 l-1.6 -1.6 z" fill="#266643"/>
<path d="M353.80 365.80 l1.7 1.7 h2.8 l1.7 -1.7" fill="none" stroke="#E5BD4A" stroke-opacity="0.9" stroke-width="0.5"/>
<path d="M333.70 370.70 h6.8 v0.3 l-1.6 1.6 h-3 l-1.6 -1.6 z" fill="#B18E35"/>
<path d="M333.60 371.00 l1.7 1.7 h2.8 l1.7 -1.7" fill="none" stroke="#E5BD4A" stroke-opacity="0.9" stroke-width="0.5"/>
<path d="M321.30 375.70 h6.8 v0.3 l-1.6 1.6 h-3 l-1.6 -1.6 z" fill="#D05F2D"/>
<path d="M321.20 376.00 l1.7 1.7 h2.8 l1.7 -1.7" fill="none" stroke="#F8CB38" stroke-opacity="0.9" stroke-width="0.5"/>
<path d="M321.30 381.50 h6.8 v0.3 l-1.6 1.6 h-3 l-1.6 -1.6 z" fill="#B18E35"/>
<path d="M321.20 381.80 l1.7 1.7 h2.8 l1.7 -1.7" fill="none" stroke="#F8CB38" stroke-opacity="0.9" stroke-width="0.5"/>
<path d="M321.30 391.90 h6.8 v0.3 l-1.6 1.6 h-3 l-1.6 -1.6 z" fill="#266643"/>
<path d="M321.20 392.20 l1.7 1.7 h2.8 l1.7 -1.7" fill="none" stroke="#fff" stroke-opacity="0.33" stroke-width="0.5"/>
<path d="M321.30 402.30 h6.8 v0.3 l-1.6 1.6 h-3 l-1.6 -1.6 z" fill="#266643"/>
<path d="M321.20 402.60 l1.7 1.7 h2.8 l1.7 -1.7" fill="none" stroke="#F8CB38" stroke-opacity="0.9" stroke-width="0.5"/>
<path d="M301.30 70.70 h6.8 v0.3 l-1.6 1.6 h-3 l-1.6 -1.6 z" fill="#B18E35"/>
<path d="M301.20 71.00 l1.7 1.7 h2.8 l1.7 -1.7" fill="none" stroke="#F8CB38" stroke-opacity="1" stroke-width="0.9"/>
<path d="M301.30 407.70 h6.8 v0.3 l-1.6 1.6 h-3 l-1.6 -1.6 z" fill="#B18E35"/>
<path d="M301.20 408.00 l1.7 1.7 h2.8 l1.7 -1.7" fill="none" stroke="#F8CB38" stroke-opacity="1" stroke-width="0.9"/>
</svg>
</body></html>
